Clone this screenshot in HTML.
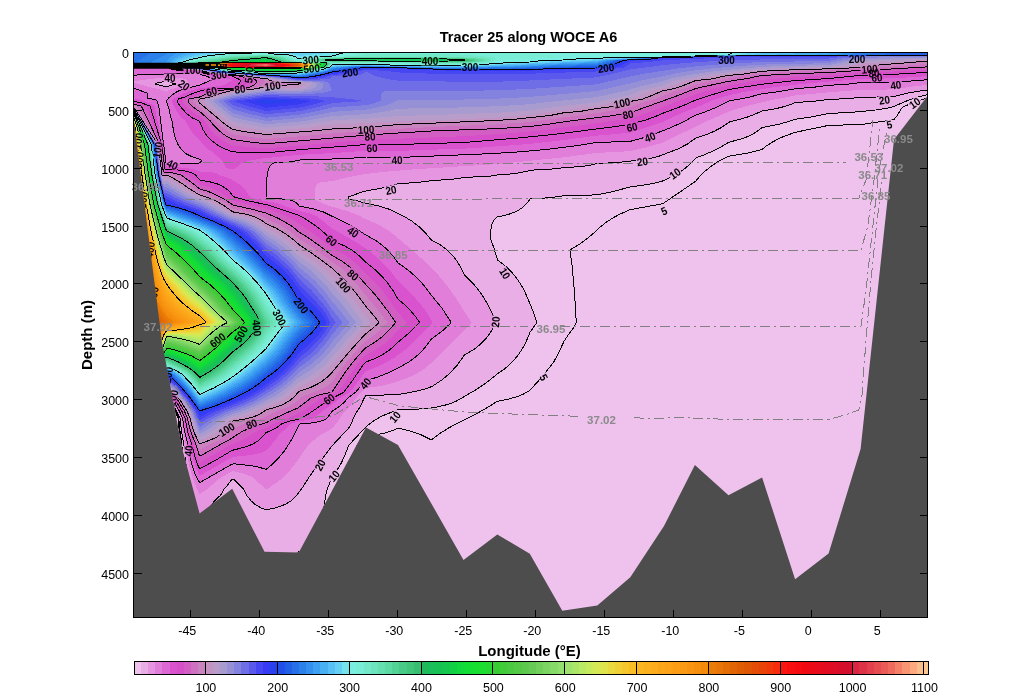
<!DOCTYPE html>
<html><head><meta charset="utf-8"><title>Tracer 25 along WOCE A6</title>
<style>
html,body{margin:0;padding:0;background:#fff;}
body{width:1024px;height:693px;overflow:hidden;font-family:"Liberation Sans",sans-serif;}
svg{display:block;will-change:transform}
text{font-family:"Liberation Sans",sans-serif;}
.tk{font-size:12.5px;fill:#000}
.cl{font-size:11px;font-weight:bold;fill:#000;text-anchor:middle;font-family:"Liberation Sans",sans-serif;font-stretch:condensed}
.il{font-size:11.5px;font-weight:bold;fill:#8a8a8a;text-anchor:middle}
</style></head><body>
<svg width="1024" height="693" viewBox="0 0 1024 693">
<rect width="1024" height="693" fill="#fff"/>
<defs><clipPath id="ax"><rect x="133.5" y="52.5" width="794" height="565"/></clipPath>
<clipPath id="sea"><path clip-rule="evenodd" d="M133,52H928V618H133Z M133.5,117.0 148.4,235.0 162.0,342.0 182.0,448.0 199.6,513.5 232.2,488.8 264.5,551.8 298.8,552.5 366.0,427.5 398.0,445.0 463.5,560.0 497.3,534.5 529.8,553.8 562.3,610.8 597.3,605.5 630.3,577.3 664.0,526.0 694.9,465.0 728.5,495.2 762.1,477.4 795.1,579.3 828.6,553.5 860.6,449.0 894.0,139.5 927.5,96.0 930,96 930,620 130,620 130,117Z"/></clipPath></defs>

<g clip-path="url(#ax)" shape-rendering="crispEdges">
<rect x="133" y="52" width="796" height="567" fill="#eec2ed"/>
<path fill="#eaaee7" d="M134,52 928,52 928,94.5 913.4,98.5 903.9,102 894,106.5 887.9,108 875.6,110 858,111.8 828,113.6 812,116.8 796,119.2 780,124 762,127.7 756,132.2 749.1,136 741.3,139 728,142.7 720.8,147 713,151 695.8,158 689.1,165 681.6,171 672,176.8 662,181.2 648,184.5 629.7,187 614,191.4 596,194.9 564,195.7 552,197.5 530.2,199 527.2,203 524.3,206 518,210.5 509.6,214 497.1,217 494,220 492.1,224 490.9,230 490.1,238 493.6,247 497.6,260 505.3,266 510,270.4 515,276 520,283.1 524,290 527.2,297 533.7,313 536.8,322 536.6,323 530,332.3 524.4,345 518,355.3 513.3,361 508,366.1 503.1,370 498,373.4 487.3,382 476,389.7 456,401.3 445.6,405 430,408.2 418,409.1 398,409.7 382,416 375,420 369.5,424 366,427 365.6,428 364,429 348.9,445 344.6,456 341.3,463 337.2,470 332,477.4 326.6,491 323.4,510 319.7,524 317.4,530 314.9,535 309.4,543 304,548.3 298.6,552 266,585.8 234,582.7 232,584 228,591 224,597 219.3,603 214.7,608 209,613.2 202.6,618 199,618 194.8,602 191.3,584 188.1,563 185.4,540 183.1,514 185,508 186.4,500 185,483 183.2,466 181.8,444 180.1,432 178.7,418 175.4,411 169.4,400 167,397.4 166,397 133,397 133,52 134,52Z"/>
<path fill="#e696e0" d="M134,52 928,52 928,89.8 910,92.6 894,96.5 860,97.5 846,98.7 828,99.5 814,101.3 795.6,102.5 787.7,105.5 780.9,107.5 772,109.4 761.9,111 755.4,114 747.6,117 729.4,122 720.4,128 714,131.4 706,134.7 695.8,138 687.4,144 678,148.9 658,156.6 650,158.6 642,159.8 620,162.2 596,163.8 588,165.6 580,166.6 550,169.3 532,170.1 518,173.1 497.3,175 490,176.1 464,177.5 452,179.3 432,180.6 418,182.4 398,183.8 384,187.7 364,191.3 348.2,197 348.3,199 358,201 366,203.4 378.8,206 388,208.8 393.4,211 404,216.4 412,221.2 419.5,227 424.6,232 431.4,240 440.5,245 447.2,250 452.3,255 456.9,261 460.5,267 464.3,275 474.3,285 482.7,296 487,303 490.6,310 495.5,321 495.8,323 490,333.1 486.3,338 482.7,342 474.4,349 464.4,355 457.3,365 450.1,373 441.9,380 432,386.5 426,388.7 418,390.8 398,394.5 365.7,396 364,398.4 360.6,406 354.8,415 351.9,422 348.8,428 331.9,446 314.8,469 309.2,477 303.6,486 297.1,495 293.3,499 289.3,502 283.6,505 276,507.7 266,510 264,509.3 257.5,506 252,501.8 247.2,496 243.5,489 234,479.4 232,479.2 228,484.6 224.2,489 222.1,493 219.8,496 215.3,500 212,504.3 208.3,508 204.5,511 200,513.8 199,512.8 197.7,510 195.2,500 192.3,493 187.8,475 185.8,463 183.8,444 181.6,432 180,418 176.7,411 170.6,400 167,396.2 166,395.7 133,395.7 133,52 134,52ZM165,81.5 159,82.4 154.8,84 160.8,85.5 167,86.7 175.5,84 169,81.8 167,81.4 165,81.5Z"/>
<path fill="#e07ed9" d="M134,52 928,52 928,84.8 910,86.8 894,89.4 860,89.9 828,92.4 796,95.4 771.9,100 747,106 730,111 706,121.6 662,142.9 646,147.4 630,151.2 596,153 564,157.3 498,164 416,169.2 382,172 362,174.5 346,177.7 332,181.2 322,181.9 318.4,183 316.4,185 315.7,187 315.1,191 314.6,199 320,202.1 326,204.7 332,206.7 346,210.5 357.6,215 364,218.3 374,222.6 380.8,226 387.5,230 394,234.7 417.8,255 428.6,265 436.5,273 446.6,285 455.3,297 464,311.2 471.2,322 471.1,323 459.7,335 434.4,360 426.7,367 420,371.7 409.8,377 394,382.7 382,385.7 366,388.1 364,389.4 356.1,398 353.5,402 350.3,406 344,412 337.5,422 332,428.6 320.3,435 311.5,442 307.6,446 295.1,464 288.5,472 280,480 270.4,487 266,489.6 253.6,478 252,477.1 247.3,475 241.4,473 234,471.2 232,471.3 220.3,478 206,490 200,494 199,493.1 197.5,490 192.7,478 189.5,467 187.7,458 185.8,444 183,431 181.2,418 178,411 171.8,400 167,394.9 166,394.5 133,394.5 133,82.5 147,86.5 162,90 166,91.6 167,91.5 168.9,90 186.1,85 188.3,84 187.4,81 186,79.5 183.2,78.5 179,78 167,77.6 163,77.8 148,79.2 133,81.4 133,52 134,52Z"/>
<path fill="#dd67d4" d="M134,52 928,52 928,79.7 894,82.4 861,82.5 849.3,84 828,85.4 814,87.2 796,88.6 779.5,91.5 762,93.8 747.8,97.5 728.7,101 713.7,108.5 704.8,112 695.8,115 683.2,122 670,128 649.1,136 630,141.4 596,142.5 580,145.2 544,149.7 520,151.8 490,153.7 398,157.5 366,157 348,158.5 322,159.6 299.8,160 289.3,162 274,163 272,164.2 270,166.2 268.6,169 267.7,172 266.6,180 266,198 280,198.7 290,200 295.2,202 299.2,206 314,209 323.5,212 349.8,225 364.3,234 376.6,241 383.2,246 388.6,251 393.8,257 398,262.9 410.4,272 420.9,282 442,308.3 450.4,321 451,322 450.9,323 442,331.3 431.4,339 426,346.3 421,352 415.6,357 410,361.2 402,366 390,372.1 378,376.9 366,380.7 364,382.1 355.9,392 348,398 344.5,402 340,406 332.5,411 328.7,416 325.9,419 322,420.8 316,422.3 299.6,424 290.8,441 284.3,451 276,460.6 266,469.4 258.2,467 250,465.5 235.6,464 232,464.2 200,482.4 198.6,481 195.9,476 191.7,464 189.8,456 187.8,444 184.7,432 182.5,418 179.3,411 172.9,400 167,393.6 166,393.2 133,393.2 133,164 136,164 136,161 135,160 135,153 134,152 134,145 133,144 133,88 147,93 147,98 155,99.7 156,100 157,101 157,102 157.6,102.5 158,104.3 158.9,105.5 159.6,110.5 161,124 161.8,127 162,132 162.7,134 163,139.7 163.8,142 164,147.3 164.9,150 165,155.2 165.7,157 166,163 167,164 199,163 200,162.7 201.7,161 200,159.3 191,156.3 186,153.7 181.7,150 178.2,145 175,136.9 173.4,130 172,121 170.4,116 169.4,110 167,102.8 166,101 167,100.3 168.6,98 172.7,94.5 179.5,90.5 187.6,88 199.8,85 211.7,80 211.1,78 206,76 202,75.1 199,73 133,75.2 133,52 134,52Z"/>
<path fill="#da53ce" d="M134,52 928,52 928,76 894,78.3 860,79 802,83.9 772,87.5 742,92.4 728,95.4 713.5,100 702,105 679.6,114 662,122.3 630,132.6 628,132.9 596,135.7 564,140 530,143.9 482,147.5 464,148.6 398,150.9 364,150.9 332,153.1 298,154.9 262,158.5 250,160.5 242,163 236,167.7 234,168.9 232,169.5 228,168.6 226,167.4 224.8,166 222.6,161 212.5,152 208,149.2 205,146.7 199,139.6 194.3,135 190,129.2 185.5,121 181.7,118 178.5,114 173.6,105.5 171.9,101 173,99 174,98.4 177.3,97 183.2,93.5 190,90.8 200,88.1 213.4,87 222.2,85.5 224,85 226.9,83.5 232.3,80 219.4,76 208.4,75 203.7,74 199,72.2 185,71.8 173,70.8 168.7,69.5 167,67.5 166,67.2 133,67.3 133,52 134,52ZM133.6,98.5 141.2,100 147,101.9 150,103.2 154.4,106 162.7,145 165.1,164 166,166 167,166.5 187,168.1 195,169.6 200,171.5 210,172 215.6,173 217.7,174 218.8,175 225.5,177 230.7,179 237.9,183 243.6,188 246.7,192 249,196 251.7,198 264,200.9 274,202.5 280,203.9 284.8,206 298,210.3 310,213.6 315.9,216 324,221.7 332,228.5 359.3,244 370,251.6 376,256.6 389.5,270 394,275.4 398,281 407.8,290 419.6,303 425.8,311 432.6,322 432.4,323 423.8,332 410.7,345 405,350 395.4,357 390,360.3 378,366.4 366,371.3 364,373.1 358.6,381 350,392 346,394.7 339.9,398 334,403.1 322.5,411 316,416.6 312.4,419 298,421.7 290.1,424 286,428.7 280.2,433 273.8,442 266,450.8 260.5,453 254,454.5 246,455.7 234,456.8 232,457.3 200,475.5 199,474.5 197.3,471 193.3,460 189.8,444 186.3,432 183.7,418 180.5,411 174.1,400 167,392.4 166,391.9 133,391.9 133,166.5 136,166.5 136,164 136,161 135,160 135,153 134,152 134,145 133,144 133,98.4 133.6,98.5Z"/>
<path fill="#d64fc9" d="M134,52 928,52 928,72.3 894,74.3 860,75.4 828,78.6 794,80.7 762,84.2 730,89.3 696,99.9 682,106.1 663.5,113 654,117.1 638.4,122 624.9,125 614,126.8 552,134.6 516,138.2 464,142.5 398,144.5 364,144.7 298,149.8 266,153 250,152.8 240,152.4 232,151.6 222.8,148 215.8,144 210,139.1 206,134.6 203,129.7 200,122.4 199.1,121 192.5,118 187,114 180.3,106.5 177.9,103 177.2,101 178.4,99 184.7,97 193,93.3 203,90.1 213.4,89 232.2,88.5 234,87.9 236.1,87 237.8,85 240.1,82 240.3,80 235.6,78 232.2,76 218,75.3 208,74.1 199,71.5 184,70.9 174,69.8 170.7,69 166,66.5 133,66.5 133,52 134,52ZM134,101.3 142,103 150,106 161.8,145 165,169 180,170.2 190,172.3 195.4,175 200,180 212,182.3 217.5,184 222,186 228,190 230,192 232.8,196 234.5,197 248,200.7 268,205.1 298.3,215 305.5,219 313.1,224 319.7,229 326.7,235 332,240.5 344.7,246 354.5,252 360,256.5 366,262.4 375.5,270 381.6,276 387.6,283 393.3,291 398,299.1 405,305 410,310 415.1,316 419.4,322 419.2,323 412,330.2 398,342.1 394,346.2 389.4,350 380,356 373.7,359 366,362 364.8,363 344,392 342.5,393 331.7,398 308.4,414 303.1,417 298.9,419 290,421.1 281.4,424 278,426.7 274.2,429 266,432.7 260.3,439 254,443.4 245.3,447 232,450.4 216,460 200,468.6 199,467.5 198,465.4 195,457 191.8,444 187.8,432 185,418 181.8,411 175.3,400 167,391.1 166,390.7 133,390.7 133,169 137,169 136,168 136,161 135,160 135,153 134,152 134,145 133,144 133,101.2 134,101.3Z"/>
<path fill="#d25ec4" d="M134,52 928,52 928,69.5 894,71.5 860,72.9 828,75.5 794,77.2 762,79.8 728,85.5 710.7,89.5 696,94.2 654.8,110 640,115.4 630,118.4 596,123.3 535.9,131 498,134.1 464,136.2 364,140 266,148.4 234,145.7 232,145.3 226,142.3 219.2,138 214.4,134 209,127.7 204.9,121 200,116.7 194.1,113 188.4,108.5 183.7,103.5 182.6,101 183.7,99 192.2,97 209.2,90.5 218,89.6 238.9,88.5 242.9,87 245.8,85 248.6,82 248,80 246.3,79 241.3,78 235.9,76 210,73.9 199,71.1 188,70.6 176,69.5 170,68.1 166,66 133,66 133,52 134,52ZM134,102.9 145.7,106 160.8,145 163.9,169 165,170.5 177.8,172 187,174.5 189,175.6 193.8,180 200,184.6 208.3,187 218,191 221.4,193 226.7,197 234,201.1 266,208.8 284.6,215 292,219 315.3,235 332,248 339.9,252 346,255.8 350.6,259 356.6,264 366,273.6 373,280 378.6,286 384.9,294 398,312.8 406.6,322 406.4,323 398,330.6 391.2,338 384.2,344 377.1,349 366,354.8 364,356.4 358.3,363 338,392 332,395 321.4,398 307.7,408 298,413.6 286.2,419 277.2,422 266,427.7 254.2,432 246,438.2 240.4,441 232,444.2 200,462.4 199,461.1 197.4,457 193.7,444 190,434 186.2,418 183.1,411 176.5,400 172.9,396 167,389.8 166,389.4 133,389.4 133,170.5 137,170.5 137,169 136,168 136,161 135,160 135,153 134,152 134,145 133,144 133,102.7 134,102.9Z"/>
<path fill="#ce71c0" d="M134,52 928,52 928,66.8 884,69.4 860,70.4 832,72.3 761.5,75.5 747.3,78.5 728,81.4 696,88.4 678,95.5 630,112.8 612,115.7 564,121.8 532,126.3 498,128.6 431.5,131 398,133 364,135.3 266,143.8 250,142 234,139.7 232,139.2 228,137.1 223.1,134 219.5,131 214.3,126 210.4,121 200,111.8 191.9,106 188.8,103 187.9,101 189,99 199.6,97 207.3,93.5 217.1,90.5 245,88.5 251.2,86.5 253.8,85 257.2,82 255.6,80 254.1,79 247.1,78 239,76 212,73.8 199,70.7 177,69.1 171,68 166,65.5 133,65.5 133,52 134,52ZM134,104.3 141.3,106 159.9,145 163,169.5 164,172 167,172.1 172,172.8 181,175 193,183.5 199.8,189 207,191 212.1,193 225.7,200 232,204.4 234,205.3 250.8,209 265.8,213 278,218.2 290,225 294.3,228 298.8,232 307.1,237 321.3,247 332,255.4 341.8,261 351.1,268 375.4,295 387.8,311 395.3,322 395.2,323 391.1,328 383,336 376,341.5 366,347.7 364,349.3 352.9,362 345.3,372 332,392 319.1,395 311,398 297.8,408 271.1,420 266,422.8 254,426.5 244,430.6 241.2,432 228,440.6 221.3,444 200,456.1 199,454.6 195.7,444 192,435 189.5,427 187.4,418 184.4,411 177.7,400 168.4,390 167,388.6 166,388.2 133,388.2 133,172 137,172 137,169 136,168 136.1,161 135.1,160 135.1,153 134.1,152 134.1,145 133.1,144 133,104.2 134,104.3Z"/>
<path fill="#c983bf" d="M134,52 928,52 928,63.9 878,67.7 828,70.6 796,71.6 762,73.2 744.2,75.5 722.3,79.5 712,80.9 696,84.4 683.8,89 675.7,91 653.5,99.5 645.3,101.5 630,107.1 626.4,108 600,112.6 530,122 496,124.5 432,127 398,128.8 332,133.5 266,139.1 236,134.9 232,134 220.8,126 215.9,121 194.2,103 193.2,101 194.3,99 204.9,97 213.7,93.5 224,90.7 250,88.6 258.5,86.5 261.8,85 265.8,82 261.9,79 254,78.2 242.2,76 234,75 212.8,73.5 207,72.4 199,70.3 178.9,69 172.3,68 166,65 133,65 133,52 134,52ZM134,105.4 137,106 159,145 162.4,172 163,173 164,173.5 167,173.6 171,174.4 175,175.6 186,182.5 194.7,189 199,191.6 214,197.4 219.8,200 225,203 232,207.9 234,208.8 252.7,213 259.3,215 281.6,226 286.6,229 300,239.2 314.9,249 332,261.8 338,265.6 342.5,269 350,276.5 356.7,284 366,295.7 378.9,311 387,322 386.9,323 378.9,331 374,335.1 364,342.4 346.7,362 338.1,373 332,382.2 328,385.3 320,389.7 303.9,396 300.6,398 294,403.6 288.1,407 279.4,410 262,418.3 252.1,421 242,424.7 236,427.4 234,428.4 232,430.1 228,434.5 223.4,438 217.6,441 210.3,444 200,449.8 199,448.2 197.7,444 193.2,434 190.9,427 188.7,418 185.7,411 178.8,400 167,387.3 166,386.9 133,386.9 133,173.5 137,173.5 137,169 136.1,168 136.1,161 135.1,160 135.1,153 134.1,152 134.1,145 133.1,144 133,105.2 134,105.4Z"/>
<path fill="#c293c3" d="M134,52 928,52 928,61 878,65.1 849.2,68 828,68.9 795.5,69.5 782.1,70.5 762,71.2 743.7,74 727.5,75.5 711,79 695.8,80.5 682,86 674,88.7 661.9,91 651.9,95.5 642.7,99 629.6,101.5 622,104.2 613.8,106.5 596.6,108.5 582,111.1 562.5,113 552.6,115 542,116.4 516.8,119 496,120.5 398,124.6 366,127.4 332,129 310,131.2 266,134.5 246,131.9 234,129.7 232,129 224.7,124 199.6,103 198.6,101 199.7,99 210.1,97 220,93.5 232,90.6 253.7,89 266,86.5 298,84.2 300.6,83 284,82.5 276,81.8 271.7,81 269.1,80 267.7,79 266,78.7 232.4,74.5 214,73.3 208,72.3 199.2,70 186,69.4 175,68.2 170.7,67 166,64.5 133,64.5 133,52 134,52ZM133.9,107 134,108 134.9,108.5 135,109.5 135.9,110 136,111 136.9,111.5 137.9,113 138,114 139.8,116 140,117 141.7,119 142,120 144.9,124 145,125 146.9,127 147,128 148.8,130 149,131 150.7,133 151,134 152.6,136 158.1,145 162,175 167,175.2 172,177.5 181,182.8 189.7,189 199,194.6 209,198 216,201 224.6,206 232,211.4 234,212.2 248,214.7 256,217.4 261.1,220 266,223.7 276,228.1 286,234.1 292,238.5 300,245.4 310,251.9 325.3,263 331.7,268 338.4,274 345.4,281 352.6,289 365.5,306 372.4,314 378.7,322 378.5,323 375.4,326 364,335.4 349,352 332,372.5 327.6,377 322,381.3 317.6,384 312,386.8 300,391 298,392.5 294,397 290.4,400 286,402.8 281.7,405 274,407.8 266,409.9 260.2,414 254,416.7 246,418.8 233.2,421 232,422 229.3,426 226,429.8 219.8,435 212,439.3 200,443.8 198.1,441 194.8,434 192.4,427 189.9,418 186.9,411 180,400 167,386 166,385.6 133,385.6 133,175 137,175 137.1,169 136.1,168 136.1,161 135.1,160 135.1,153 134.1,152 134.1,145 133.1,144 133,106.5 133.9,107Z"/>
<path fill="#b89cca" d="M134,52 928,52 928,59.8 862,63.5 846,66.7 830,68 780,69.2 750,71 730.2,74 717.9,75 700,78.5 685.3,80.5 672,86 665.7,88 650.4,91 640.4,95.5 630.5,99 614.4,101.5 608.2,103.5 598.3,106 578,108 563.2,110.5 546,112.1 530.1,115 512.5,116 496,117.5 464,119.1 412,120.7 332,124.7 302,128.3 266,131 244,127.6 234,125.6 232,124.9 221.7,117 204.7,103 203.5,101 205.5,99 215.3,97 222.7,94.5 232,92.2 244.7,90.5 258,89.4 266,88 298,88 301.6,86.5 306.3,83 282,81.4 276,80.5 271.7,79 256.7,77 235.2,74.5 216,73.3 209,72.1 200,69.9 187,69.2 175,68 170,66.3 167,64.5 133,64.4 133,52 134,52ZM133.6,107 134,108.2 134.6,108.5 135,109.7 135.6,110 136,111.2 136.5,111.5 139,115.9 140.7,118 141,119.1 142.6,121 143,122.2 157.7,145 162,177.1 163,178 166,178 169,179.2 177,183.8 184.8,189 194.7,195 207.9,200 214,202.8 221.5,207 228.6,212 230.8,213 234,214.1 246,216.8 254.4,220 258,222 266,227.7 274,231.6 284,237.8 290,242.4 300,251.1 315.7,262 325.8,270 340.7,285 347.9,293 370.4,322 370.2,323 364,328.4 350.5,343 332,364.8 326.6,370 318,377 310,381.8 298,387.3 287,397 278.8,402 272,404.8 266,406.7 250,414.4 242,416.8 232,418.9 229.6,420 227.8,421 221.8,428 216,432.7 208.4,437 200,440.4 198.8,439 195.6,432 191.2,418 188.2,411 181.2,400 174,391.9 167,384.8 166,384.4 133,384.4 133,178 138,178 138,177 137,176 137.1,169 136.1,168 136.1,161 135.1,160 135.1,153 134.1,152 134.1,145 133.1,144 133,106.7 133.6,107Z"/>
<path fill="#a89bd0" d="M134,52 928,52 928,58.6 862,61.1 840,65.4 828,66.9 790,67.6 762,68.9 738,70.8 728,72.3 706,74.8 695.6,77 674.9,80.5 662,85.9 640.1,90.5 630,95.1 604,100.3 596,102.5 575.6,104.5 544,108.3 530,110.4 496,112.9 398,116.1 368,118.5 332,120.4 300,125 266,127.7 244,123.8 234,121.6 232,120.8 209.8,103 208.4,101 211.3,99 220.5,97 232,93.7 236.6,93 266,89.4 298,89.6 302,89.1 306.8,88 309.8,85.5 312,83 285.9,81 280,80.2 275.6,79 261.2,77 237.7,74.5 218,73.2 211,72.2 200,69.8 176.2,68 172,66.8 169,65.5 167.9,64.5 167,64.4 133,64.3 133,52 134,52ZM133.2,107 157.4,145 161.2,175 162,178.6 163,181 167,181.2 189.7,195 210,203.4 218,207.7 224.5,212 230,214.6 232,215.5 244.9,219 252,222 260,226.8 266,231.7 274,236 280.3,240 290,247.6 300,256.8 315.7,268 323.3,275 345.2,299 354.7,311 362.6,322 362.5,323 346,340.9 328.6,361 322,367.3 313.1,374 308,377.3 298,382.6 284.4,394 278,398.2 247.8,412 242,414 232,416.6 224.8,420 223.1,421 218.3,426 213.3,430 207,433.8 200,437.1 199,435.9 196.4,430 192.4,418 189.5,411 182.4,400 174.4,391 167,383.6 166,383.2 133,383.2 133,181 138,181 138,177 137,176 137.1,169 136.1,168 136.1,161 135.1,160 135.1,153 134.1,152 134.1,145 133.1,144 133.2,107Z"/>
<path fill="#9690d7" d="M134,52 928,52 928,57.6 862,59.2 855.4,60 828,65.2 794,65.7 770,66.5 738,68.7 706,72.3 682,76.2 670,78.8 662,81.5 639.7,86.5 628,90.2 596,97.2 550,101.8 530,104.2 498,106.2 464,107.4 398,108.7 386,111.4 372,113.5 364,114.3 332,116.1 316.5,119 300,121.5 266,124.4 244,120 234,117.6 232,116.7 214.9,103 213.3,101 217.1,99 232,95.2 264,91.1 298,91.2 308,90 314.8,88 317.7,83 310,82 288,80.5 265.7,77 240.2,74.5 220,73.2 212,72.1 200,69.6 177.5,68 173,66.9 169.6,65.5 168.6,64.5 167,64.3 133,64.2 133,52 134,52ZM133.6,107.5 157,145 160.8,175 163,184 167,184.2 185,195.1 207,204.4 214,208 220.5,212 232,217.4 240.9,220 248,222.9 254,226 258,228.6 261.1,231 266,235.6 275.1,241 284.6,248 291.4,254 300,262.5 309,269 317,276 324.8,284 332,293 341,303 355.9,322 355.7,323 340.3,340 327.6,355 321.8,361 312,369 298,377.9 290,385.3 279.6,393 273.2,397 255,406 242,411.3 232,414.4 221.9,419 218.3,421 214,425 209,428.8 200,433.7 199,432.6 197.4,429 193.7,418 190.8,411 183.6,400 174.8,390 167,382.4 166,382 133,382 133,184 138,184 138,177 137,176 137.1,169 136.1,168 136.1,161 135.1,160 135.1,153 134.1,152 134.1,145 133.1,144 133,107 133.6,107.5Z"/>
<path fill="#8382df" d="M134,52 928,52 928,56.9 862,57.7 844.1,60 828,63.2 762,64.6 740,65.9 714,68.2 690,71 674.9,73.5 662,76.5 643.3,80 629.8,83.5 596,91.1 530,96.9 498,98.6 464,99.5 398,100 392,103 385.1,105.5 376,107.8 366,109.7 332,111.8 317.2,115 300,118 266,121 250,117.7 234,113.5 231.2,112 220,103 218.1,101 223,99 234,96.3 266,92.3 298,92.9 314,91.3 320,90 322.3,88.5 322.8,88 323.4,83 314,81.6 292,80.3 269.5,77 242.6,74.5 218,72.7 200,69.4 178.8,68 173,66.6 170.2,65.5 169.3,64.5 167,64.2 133,64.1 133,52 134,52ZM133.4,107.5 156.7,145 160.5,175 163,185.6 164,187 167,187.3 183,196.6 204,205.3 210,208.3 216.4,212 232,219.3 240,221.9 246,224.5 251,227 256,230.2 266,239.5 275.9,246 284,252.3 291.3,259 300,268.2 308,274.5 315.2,281 324.4,291 332,301.2 340.5,311 349.1,322 349,323 335.5,338 326,349.9 320,356.4 311.3,364 298,373.2 291.2,380 282.6,387 272,394 255.4,403 244,407.9 229.8,413 218,418.4 213.5,421 206,426.9 200,430.4 199,429.2 198.1,427 192,411 184.7,400 175.1,389 167,381.2 166,380.8 133,380.8 133,187 139,187 139,185 138,184 138.1,177 137.1,176 137.1,169 136.1,168 136.1,161 135.2,160 135.2,153 134.2,152 134.2,145 133.2,144 133,107.2 133.4,107.5Z"/>
<path fill="#6f6ee6" d="M134,52 928,52 928,56.4 858.5,56.5 840,58.8 828,61 762,62 736,63.3 708,65.2 680,68.1 645.4,73.5 630,76.5 596,84.4 530,88.9 498,90.3 464,90.8 398,90.5 388,90.8 384,91.4 382,92.7 381.1,95.5 380.6,101 374,103.2 366,105.2 332,107.5 316,111.4 300,114.6 266,117.7 246,113 234,109.5 232,108.6 223,101 228.8,99 234,97.8 266,93.8 304,94.3 322,93 328,91.7 332,90 364,90 332,90 330.4,87 329.1,83 326,81.7 322,81.1 298,80.4 273.1,77 245.1,74.5 220,72.8 200,69.3 179,67.8 172,66 170.8,65.5 170,64.5 167,64.1 133,64 133,52 134,52ZM133.3,107.5 156.4,145 160.2,175 164,190 167,190.3 174.8,195 181,198.1 189,201.6 202,206.6 220.6,216 232,221.1 244.3,226 253,231 259.6,237 266,243.5 275.5,250 284,257 293.1,266 300,274 307.3,280 313.6,286 322.4,296 328.5,304 332,309.4 342.3,322 342.3,323 332,334.5 326.9,342 318,352.3 309.4,360 300,366.8 290,376.9 280.1,385 272,390.4 255.7,400 245.1,405 228,411.4 218,415.8 210.3,420 200,427.1 199,425.8 193.3,411 185.9,400 176,388.6 167,380 166,379.6 133,379.6 133,190 139,190 139,185 138,184 138.1,177 137.1,176 137.1,169 136.1,168 136.2,161 135.2,160 135.2,153 134.2,152 134.2,145 133.2,144 133,107.3 133.3,107.5Z"/>
<path fill="#5a58ed" d="M134,52 928,52 928,56.1 852,56.3 840.2,57 828,58.7 760,59.5 728,60.4 708,61.5 690,62.6 666,64.8 630,69.4 612.1,74 596,77.4 514,81.2 496,81.7 464,81.8 398,80.7 387.3,79 378.8,77 372,74.7 366,71.7 362,74.3 358,75.2 350,75.7 332,76 331.3,77.5 330,78.5 326,79.4 298,79.9 276.8,77 222,72.8 200,69.1 181.4,68 175,66.7 171.5,65.5 170.7,64.5 167,63.9 133,63.9 133,52 134,52ZM264,95.4 266,95.2 326,96.7 350.3,99 364.4,101 332,103.1 316.2,107.5 300,111.1 266,114.3 250,110.4 234,105.5 232,104.5 227.8,101 234,99.3 264,95.4ZM133.1,107.5 156,145 159.8,175 164,192.6 167,193.3 175,197.8 184,202 200,207.8 216.4,216 242,227.2 249,231 257.9,239 266,247.4 277.6,256 290,267.4 300,279.7 311.1,290 323.3,304 328,310.4 332,317.7 335.6,322 335.5,323 332,327 325.8,337 316.3,348 309,355 300,361.9 289.8,373 279.2,382 272,387 254,398.1 242,403.8 223.1,411 216.4,414 208,418.5 200,423.8 199,422.4 194.6,411 187.1,400 176,387.3 167,378.8 166,378.4 133,378.4 133,193 140,193 139,192 139,185 138,184 138.1,177 137.1,176 137.1,169 136.2,168 136.2,161 135.2,160 135.2,153 134.2,152 134.2,145 133.2,144 133.1,107.5Z"/>
<path fill="#4646f2" d="M134,52 928,52 928,55.9 848.7,56 828,56.9 730,57.5 694,58.9 664,60.2 648,62.1 630,63.4 626.1,66.5 622.9,68 615.7,68.5 606,70.3 596,71.5 524,73.9 496,74.4 432,73.7 406,72.9 398,72.4 386,70.8 366,70 358.7,71 355,72.5 350,73.6 332,75 327.8,76 324,77.7 320,78.4 300,79.4 278,76.8 224,72.8 200,69 182.7,68 176,66.8 172.1,65.5 171.4,65 171.4,64.5 167,63.8 133,63.8 133,52 134,52ZM264,96.9 268,96.7 306,98.1 318,99.4 325.3,101 313,104.5 300,107.6 266,111 248,106.1 233.1,101 264,96.9ZM133.4,108 155.7,145 159.5,175 164,194.1 165,196 167,196.3 175,200.5 184,204.4 199,209.4 212.2,216 224,220.9 244.9,231 256,240.7 266,251.4 275.9,259 288.1,270 293.2,276 300,285.5 308,293.1 321.6,308 326,314.1 330.3,322 330.2,323 326,330.4 322.8,335 318.6,340 308.6,350 300,357.1 292.5,366 287.7,371 277,380 259.6,392 251,397 238.1,403 216,411.5 208,415.5 200,420.5 199,419 195.9,411 188.3,400 177,386.9 167,377.6 166,377.2 133,377.2 133,196 140,196 140,193 139,192 139.1,185 138.1,184 138.1,177 137.1,176 137.2,169 136.2,168 136.2,161 135.2,160 135.2,153 134.2,152 134.2,145 133.2,144 133,107.5 133.4,108Z"/>
<path fill="#373bf4" d="M134,52 928,52 928,55.8 730,56.4 664,58.1 660,59.2 656,59.7 630,60.7 620.8,66 614.1,68 599.1,68.5 596,68.9 564,69.5 530,70.6 498,71.1 466,70.9 434,70.3 402,69.3 398,68.8 366,69 352.4,71 344,72.8 332,74 320.6,77 316,77.9 300,78.9 278,76.4 223.3,72.5 200,68.8 181,67.6 174,66 172,65 172.1,64.5 167,63.7 133,63.7 133,52 134,52ZM264,98.3 266,98.1 298,99.3 312.1,101 298,104.5 266,107.7 243.7,101 264,98.3ZM133.3,108 155.3,145 159.2,175 165,199 167,199.2 179.2,205 189,207.7 197,210.6 208,216 222,221.7 240.8,231 248,236.8 254,242.3 266,255.3 280,266.5 286,272.1 292,279.3 300,291.2 309.5,301 315,306 319.5,311 323.1,316 326.6,322 326.6,323 323.6,328 316.6,337 306,347.1 300,352.3 288.8,366 283.7,371 277.7,376 259.7,389 249.9,395 240,399.8 227.9,405 211.2,411 200,417.2 199,415.7 197.2,411 188,398.2 176.5,385 167,376.4 166,376 133,376 133,199 140,199 140,193 139,192 139.1,185 138.1,184 138.1,177 137.1,176 137.2,169 136.2,168 136.2,161 135.2,160 135.2,153 134.2,152 134.2,145 133.2,144 133,107.6 133.3,108Z"/>
<path fill="#2840ee" d="M134,52 928,52 928,55.6 730,56 718,56.7 664,57.6 652,59.4 630,60 626.4,60.5 616.2,65.5 610.9,67 605.3,68 552.6,69 544,69.6 500,70.3 480,70.2 416,69 398,67.8 366,68 332,73 326,74.7 314,77.2 300,78.4 278,76.1 224,72.4 200,68.7 182,67.6 174,65.8 172.6,65 172.7,64.5 167,63.6 133,63.6 133,52 134,52ZM264,99.8 266,99.6 298.5,101 266,104.3 254.8,101 264,99.8ZM133.2,108 155,145 158.8,175 165,201.1 166,202 172.9,205 182,207.3 190.5,210 197,212.6 203.8,216 216,220.7 224,224.4 236.8,231 239.4,233 246.7,239 253.2,245 259.9,252 266,259.2 278,268.5 284.8,275 291.9,284 300,296.9 303.9,301 310,306 314.1,310 319,316 323,322 323,323 320.4,327 314,334.9 309.9,339 300,347.5 292.9,357 287.9,363 281.9,369 274.6,375 257,388 246,394.5 226,403.7 217.5,407 205.2,411 200,413.9 198.4,411 190.6,400 184.1,392 176.8,384 167,375.2 166,374.8 133,374.8 133,202 141,202 141,201 140,200 140.1,193 139.1,192 139.1,185 138.1,184 138.1,177 137.1,176 137.2,169 136.2,168 136.2,161 135.2,160 135.2,153 134.2,152 134.2,145 133.2,144 133.2,108Z"/>
<path fill="#2050e8" d="M134,52 928,52 928,55.5 730,55.9 714,56.7 660.8,57.5 650,59.2 628,59.9 623,60.5 615.1,64 610.6,65.5 604,66.9 596.1,68 548,68.8 530.2,69.5 498,70 464,69.6 422,68.8 398,67.5 366,67.1 332,72 324,74.3 312,76.7 300,77.9 278,75.8 226,72.4 200,68.5 186.6,68 182,67.4 175,65.9 173.2,65 173.4,64.5 167,63.5 133,63.5 133,52 134,52ZM133.2,108 154.7,145 158.5,175 164.6,201 166,205 175.3,207 185.5,210 193,212.8 199.7,216 212,220.6 226,227.1 232.8,231 236.8,234 244.2,240 252,247.3 258.4,254 266,263.1 275.5,270 282.8,277 290.7,287 298.8,301 310.5,311 315,316 319.4,322 319.4,323 318,325 312,332.4 306.2,338 298.9,344 291.2,355 284,363.3 275.6,371 266,377.9 258,384.4 246,392.1 227.4,401 215,406 200,410.8 198.2,409 190.3,398 182,388.2 175,381 167,374 133,373.7 133,205 141,205 141,201 140,200 140.1,193 139.1,192 139.1,185 138.1,184 138.1,177 137.2,176 137.2,169 136.2,168 136.2,161 135.2,160 135.2,153 134.2,152 134.2,145 133.2,144 133.2,108Z"/>
<path fill="#2260e8" d="M134,52 928,52 928,54.4 921.7,55 916,55 828,55.7 728,55.9 710,56.6 657.7,57.5 647.4,59 622,60.1 619.6,60.5 607,65 596,67 564,67.6 530,68.8 498,69.4 464,69.3 430,68.7 398,67.3 364,66.8 360,67 332,71.2 328,72.5 318,74.9 308,76.5 300,77.4 279.3,75.5 226,72.2 200.9,68.5 187.9,68 182,67.3 174.5,65.5 173.8,65 174,64.5 167,63.4 133,63.2 133,52 134,52ZM133.1,108 154.3,145 158.2,175 164.5,202 166,206.3 177,208.9 188,212.6 195.7,216 214,223 222.4,227 229.5,231 246.2,245 254,252.8 266,266.2 273.7,272 280.1,278 284.5,283 289,289 292.1,294 295.8,301 298,304 308.2,313 315.7,322 315.7,323 310,330 305,335 298,341.1 289.6,353 282,361.7 274,369 266,375 256.1,383 244,390.7 226,399.5 214,404.5 200,409.1 199,408.3 189.9,396 181.3,386 173,377.8 168.5,374 167,373.1 133,372.9 133,206.3 141,206.3 141,201 140,200 140.1,193 139.1,192 139.1,185 138.1,184 138.2,177 137.2,176 137.2,169 136.2,168 136.2,161 135.3,160 135.3,153 134.3,152 134.3,145 133.3,144 133.1,108Z"/>
<path fill="#2670e8" d="M134,52 894.3,52 893.8,52.5 892,53 883.1,55 828,55.6 728,55.8 708,56.5 654.6,57.5 642.9,59 619.2,60 616.2,60.5 604,64.5 596,66 564,66.7 530,68.1 498,68.8 464,68.8 430,68.4 398,67.1 366,66.6 358,66.9 355.1,67 332,70.4 328,71.9 318,74.1 300,76.9 278,75.1 264,74.6 228,72.3 202.1,68.5 189.2,68 183,67.3 175.1,65.5 174.4,65 174.8,64.5 174,64.3 167,63.3 133,63 133,52 134,52ZM133.3,108.5 154,145 157.8,175 164.6,204 166,207.6 172.1,209 181,211.7 205,220.8 217,226 226.4,231 245.9,248 266,269.3 272.1,274 278.4,280 286.6,290 289.2,294 293.6,302 298,307.7 306,315 312.1,322 312.1,323 308,327.9 298,337.4 292.8,344 288,351.1 281.2,359 273.8,366 255.1,381 242.8,389 227,397 214,402.7 200,407.4 199,406.7 188.7,393 181.7,385 173.5,377 170,374 168.3,373 166,372.2 133,372.2 133,207.6 141,207.6 141.1,201 140.1,200 140.1,193 139.1,192 139.1,185 138.1,184 138.2,177 137.2,176 137.2,169 136.2,168 136.3,161 135.3,160 135.3,153 134.3,152 134.3,145 133.3,144 133,108 133.3,108.5Z"/>
<path fill="#2c80ea" d="M152,52 875.7,52 875.3,52.5 861.3,55 828,55.5 728,55.8 651.5,57.5 638.5,59 615.6,60 612.8,60.5 602,63.8 596,65 564,65.8 530,67.4 498,68.2 464,68.4 432,68.1 398,66.9 366,66.4 356,66.7 350.1,67 332,69.6 328,71.3 323,72.5 308,75.3 298,76.4 282.3,75 266,74.6 228,72.1 203.4,68.5 190.5,68 183,67.1 175.7,65.5 175,65 175.5,64.5 174,64.1 167,63.1 136.5,62.5 136.5,62 140.7,59 151.7,52.5 152,52ZM133.2,108.5 143.9,127 153.7,145 157.5,175 164.5,205 166,208.7 179,212.5 203,221.5 214,226.2 223.2,231 244.6,250 266,272.3 271.7,277 276.8,282 285,292 290.8,302 296.2,309 298,311.3 308.5,322 308.5,323 306.8,325 298,333.8 290.6,343 286,349.8 279.8,357 272,364.4 254.1,379 242.2,387 227,395 213.5,401 200,405.8 199,405.1 192,395.7 183,385 175,377.1 169.8,373 166,371.5 133,371.5 133,208.9 141,208.9 141.1,201 140.1,200 140.1,193 139.1,192 139.2,185 138.2,184 138.2,177 137.2,176 137.3,169 136.3,168 136.3,161 135.3,160 135.3,153 134.3,152 134.3,145 133.3,144 133.3,137 133,136.7 133.2,108.5Z"/>
<path fill="#3490ee" d="M169,52 858.6,52 858.2,52.5 848.2,55 817.3,55.5 728,55.7 648.4,57.5 636,58.9 612,60 596,64 564,64.9 520.4,67 464,67.9 432,67.8 406,66.9 366,66.2 352,66.6 345.1,67 332,68.8 328,70.7 323.1,72 306.2,75 298,75.9 287.8,75 266,74.4 232,72.3 220,71 204.6,68.5 191.8,68 184,67.1 176.3,65.5 175.6,65 176.2,64.5 175,64.1 170,63.3 166,62.8 151.5,62.5 151.5,62 153.2,61 166,54.3 169,52ZM133.1,108.5 143.7,127 153.3,145 157.2,175 164.1,205 166,209.6 167,210.3 178,213.7 202,222.5 212.4,227 220.1,231 243.4,252 259.2,268 266,275.4 271.3,280 276,284.7 282.8,293 288,302 293.3,309 298,315 304.9,322 304.9,323 298,330.1 287.7,343 283.6,349 278.4,355 271.1,362 253.3,377 242,384.7 226,393.4 213.9,399 200,404.2 199,403.4 191,392.8 184.4,385 176,376.7 173,374 171,372.8 166,370.8 133,370.8 133,210.2 142,210.2 142,209 141,208 141.1,201 140.1,200 140.1,193 139.1,192 139.2,185 138.2,184 138.2,177 137.2,176 137.3,169 136.3,168 136.3,161 135.3,160 135.3,153 134.3,152 134.3,145 133.3,144 133.3,137 133,136.7 133.1,108.5Z"/>
<path fill="#3ea0f2" d="M179,52 846.3,52 845.9,52.5 835.3,55 801.3,55.5 724,55.7 645.3,57.5 634,58.7 608.4,60 596,63 564,64 530.2,66 498,67 464,67.5 432,67.5 410,66.7 366,66 350,66.4 340.2,67 332,68 328.2,70 323.3,71.5 304,74.8 298,75.4 286,74.7 266,74.3 232,72.2 220,70.8 205.9,68.5 192,67.9 181,66.5 177,65.5 176.2,65 176.9,64.5 175.3,64 166.2,62.5 166.2,62 168.4,59 171.1,56.5 174.1,54.5 178.7,52.5 179,52ZM133,108.5 143.5,127 153,145 156.8,175 163.7,205 166,210.5 167,211.6 176,214.5 204.6,225 215.3,230 219.4,233 242.2,254 257.5,269 266,278.4 274.9,287 279.9,293 285.2,302 289.6,308 298,318.6 301.2,322 301.3,323 292,333.8 284.8,343 280.7,349 277.1,353 269.9,360 250,376.9 239.4,384 224,392.4 212,398 200,402.5 199,401.8 190.8,391 183.8,383 174.4,374 171,372.1 166,370.1 133,370.1 133,211.5 142,211.5 142,209 141.1,208 141.1,201 140.1,200 140.2,193 139.2,192 139.2,185 138.2,184 138.2,177 137.2,176 137.3,169 136.3,168 136.3,161 135.3,160 135.3,153 134.3,152 134.3,145 133.3,144 133.3,137 133,136.7 133,108.5Z"/>
<path fill="#4ab0f4" d="M189,52.3 189.3,52 834.1,52 833.7,52.5 828,53.8 809.4,55 720,55.6 673.8,57 642.2,57.5 632,58.6 606,59.9 596,62.1 564,63.2 530,65.2 488,66.6 464,67.1 432,67.1 366,65.7 346,66.3 332,67.4 326.8,70 322,71.4 298,74.9 266,74.1 232,72 220,70.6 207.1,68.5 192,67.8 181,66.3 177.6,65.5 176.8,65 177.5,64.5 176.2,64 169.6,62.5 172.6,59.5 178,56.3 182.1,54.5 189,52.3ZM133.2,109 143.3,127 152.7,145 156.5,175 163.3,205 166,211.5 167,212.9 187.7,220 203,225.8 212.2,230 218,234.4 225.4,241 254,268.3 266,281.5 273.6,289 277.7,294 282.4,302 286,307 297.8,322 297.8,323 286.4,337 276,350.9 268.8,358 250.2,374 240,381.3 224.8,390 214,395.3 200,400.9 199,400.1 189,387.3 183,380.7 175.9,374 171,371.3 166,369.4 133,369.4 133,212.8 142,212.8 142.1,209 141.1,208 141.1,201 140.1,200 140.2,193 139.2,192 139.2,185 138.2,184 138.2,177 137.2,176 137.3,169 136.3,168 136.3,161 135.3,160 135.3,153 134.3,152 134.3,145 133.3,144 133.3,137 133,136.7 133.2,109Z"/>
<path fill="#58c0f4" d="M200,52 811.4,52 810.1,52.5 806,52.8 768.1,55 714,55.6 671,57 640,57.5 630,58.5 605.4,59.5 601.3,60 596,61.2 564,62.4 530,64.4 480,66.3 464,66.7 432,66.7 364,65.4 342,66.1 332,66.8 331.3,67.5 329.5,68 326.7,69.5 321.8,71 298,74.5 266,74 234,72 222,70.7 208.4,68.5 192,67.7 180.1,66 178.2,65.5 177.4,65 178.2,64.5 177.1,64 172.9,63 172.6,62.5 173.2,62 178,59.1 186,55.8 200,52ZM133.2,109 143.1,127 152.3,145 156.8,178 162.9,205 167,214.2 188,221.5 203,227.2 209.1,230 216.9,236 224.7,243 241.9,260 250.9,268 258.8,276 266,284.6 274.1,293 282,305.5 294.7,322 294.7,323 282.7,338 274.7,349 267.7,356 250,371.4 240,379 226,387.3 212.9,394 200,399.3 199,398.5 189,385.8 182,378.3 177.4,374 171,370.6 166,368.7 133,368.7 133,214.1 142,214.1 142.1,209 141.1,208 141.2,201 140.2,200 140.2,193 139.2,192 139.2,185 138.2,184 138.3,177 137.3,176 137.3,169 136.3,168 136.3,161 135.3,160 135.3,153 134.3,152 134.3,145 133.3,144 133.3,137 133,136.7 133.2,109Z"/>
<path fill="#66d0f4" d="M212,52.3 212.4,52 778.4,52 776.8,52.5 762,53.4 752.1,55 710,55.6 668.2,57 638,57.4 630,58.2 604,59.2 596,60.3 474,66 432,66.3 364,65.1 338,65.9 332,66.2 330.6,67.5 328.2,68 325.3,69.5 320,71 298,74 266,73.8 234,71.9 222,70.6 209.6,68.5 192,67.6 180,65.8 178,65 178.9,64.5 178,64 174.7,63 181,59.8 197,54.8 212,52.3ZM133.1,109 143,127 152,145 155.9,175 157,180.5 162.5,205 167,215.5 190,223.6 204,229.1 207.4,231 216.2,238 224,245 238.9,260 250.3,270 258,278 266,287.6 271.1,293 280,306.7 291.6,322 291.6,323 280,337.6 271.7,349 261.2,359 249.6,369 239.6,377 226.5,385 213.2,392 200,397.6 199,396.9 189.6,385 181,376 177.4,373 171,369.8 166,368 133,368 133,215.4 142,215.4 142.1,209 141.1,208 141.2,201 140.2,200 140.2,193 139.2,192 139.2,185 138.2,184 138.3,177 137.3,176 137.3,169 136.3,168 136.4,161 135.4,160 135.4,153 134.4,152 134.4,145 133.4,144 133.4,137 133,136.6 133.1,109Z"/>
<path fill="#74e4ec" d="M226,52 281.4,52 282,52.5 289.6,54 294.3,54.5 300,56 330.9,52.5 331.8,52 752.1,52 751.4,52.5 745.7,53.5 740.5,55 710,55.4 696,56.1 672,56.4 665.4,57 636,57.3 630,58 606,58.6 596,59.4 556,61.1 530,62.8 468,65.8 398,65.7 366,64.8 334,65.5 332,65.6 330,67.5 327,68 325.3,69 322,70.1 310,72.3 298,73.5 266,73.6 232,71.6 222,70.4 210.9,68.5 192,67.5 179.4,65.5 178.6,65 179.6,64.5 176.6,63 188,59 202,55.4 218.8,53.5 226,52ZM133.3,109.5 142.8,127 151.7,145 155.5,175 157.4,184 162.1,205 167,216.8 188,224.2 202.8,230 216,240.3 224.3,248 234,258.3 247.6,270 257.3,280 269,294 277.4,307 288.6,322 288.6,323 278,336.4 268.8,349 260,357.3 250,366 236.1,377 228,382.1 214,389.7 200,396 199,395.3 189.2,383 180.4,374 177,371.9 171,369 166,367.3 133,367.3 133,216.7 143,216.7 143,216 142,215 142.1,209 141.1,208 141.2,201 140.2,200 140.2,193 139.2,192 139.3,185 138.3,184 138.3,177 137.3,176 137.3,169 136.3,168 136.4,161 135.4,160 135.4,153 134.4,152 134.4,145 133.4,144 133.4,137 133,136.6 133,109 133.3,109.5Z"/>
<path fill="#7befdf" d="M346,52 732.7,52 732.4,52.5 728.4,55 700,55.1 694.9,56 668,56.1 664,56.4 662,57 634,57.1 628,57.6 606,57.8 596,58.5 576,59 562.9,60 540,60.7 530,62 506,62.7 464,65.5 398,65.5 388,64.9 366,64.5 332,65 329.4,67.5 325.8,68 324,69 318.9,70.5 310,72 296,73.1 266,73.5 232,71.4 222,70.3 212.1,68.5 195,67.7 183,66.2 180,65.5 179.2,65 180.3,64.5 178.4,63 181.6,62.5 191,59.5 207,56 218.7,54.5 232,53.5 264,52.7 266,52.7 273.7,54 290,55.1 295.1,56.5 296.8,57.5 298,58.8 300,58.9 304,57.7 310,56.8 332,56 346,52ZM133.2,109.5 142.6,127 151.3,145 155.2,175 157.7,187 161.7,205 166,216.3 167,218.1 199.6,230 207.8,236 215.1,242 224,250.4 232.8,260 245.9,271 256.6,282 265.4,293 275.2,308 285.5,322 285.5,323 275.3,336 265.8,349 250,363.3 236,374.5 228,380 214,387.9 200,394.3 199,393.6 190,382.4 181.8,374 177,371 171,368.3 166,366.5 133,366.5 133,218 143,218 143,216 142,215 142.1,209 141.1,208 141.2,201 140.2,200 140.2,193 139.2,192 139.3,185 138.3,184 138.3,177 137.3,176 137.4,169 136.4,168 136.4,161 135.4,160 135.4,153 134.4,152 134.4,145 133.4,144 133.4,137 133,136.6 133.2,109.5Z"/>
<path fill="#79edd5" d="M358,52.4 358.4,52 530.2,52 531.5,52.5 552,54.8 563.4,57 498,60.7 494.8,62 492,62.6 483.5,63.5 464,64.7 414,64.5 366,63.7 332,64.2 328.8,67.5 324.6,68 322.8,69 320,69.9 311.6,71.5 298,72.8 266,73.3 232,71.3 222,70.1 213.4,68.5 195,67.6 182.9,66 179.9,65 181,64.5 180,63.5 180.2,63 184.6,62.5 196,59.4 214,56.1 230,54.4 266,54.2 280,54.9 288,55.8 293.6,57.5 296.5,60 300,60.4 305.9,58.5 314,57.5 344.3,56 358,52.4ZM133.1,109.5 142.4,127 151,145 154.9,175 158,190 161.4,205 166,217.7 167,219.4 196.1,230 204.8,236 214.6,244 223,252 230.2,260 244,271.7 254.2,282 263,293 270.9,306 282.4,322 282.4,323 262.8,349 250,360.5 239.8,369 228,378 214,386 200,392.6 199,391.9 190.1,381 183.3,374 176.6,370 167,365.8 133,365.6 133,219.3 143,219.3 143.1,216 142.1,215 142.2,209 141.2,208 141.2,201 140.2,200 140.3,193 139.3,192 139.3,185 138.3,184 138.3,177 137.3,176 137.4,169 136.4,168 136.4,161 135.4,160 135.4,153 134.4,152 134.4,145 133.4,144 133.4,137 133,136.6 133.1,109.5Z"/>
<path fill="#74e9ca" d="M366,53.9 430,53.9 452,54.3 466,54.8 494,57.2 497.8,58 496,58.6 493.9,60.5 491.9,61.5 485.2,62.5 466,63.7 430,63.8 366,62.8 332,63.5 328.2,67.5 323.3,68 321.5,69 318,70 310,71.4 298,72.6 266,73.2 232,71.2 222.4,70 214.6,68.5 200,67.9 190,67 183,65.9 180.5,65 181.7,64.5 181.2,63.5 182.1,63 187.6,62.5 200,59.5 218.6,56.5 232,55.1 266,54.6 278,55.3 288,56.8 291.4,58 294.1,60 298,61 300,61.1 306,59.4 311,58.5 328,57.2 354,56.2 356.7,56 366,53.9ZM133,109.5 142.2,127 150.6,145 154.5,175 158,191.7 161,205 166,219 167,220.7 192.5,230 201.8,236 214.1,246 220.4,252 227.7,260 242.8,273 252.6,283 260.7,293 266.8,304 279.3,322 279.3,323 269.3,336 260.8,348 250,357.8 226.3,377 214,384.1 200,390.9 199,390.2 191,380.5 184.8,374 178.3,370 167,364.9 133,364.7 133,220.6 143,220.6 143.1,216 142.1,215 142.2,209 141.2,208 141.2,201 140.2,200 140.3,193 139.3,192 139.3,185 138.3,184 138.3,177 137.3,176 137.4,169 136.4,168 136.4,161 135.4,160 135.4,153 134.4,152 134.4,145 133.4,144 133.4,137 133,136.6 133,109.5Z"/>
<path fill="#6de4bd" d="M262,55 272,55.3 282.7,56.5 287.2,57.5 291.8,60 298,61.7 300,61.8 304.2,61.5 305.8,61 306.8,60 314,58.7 334,57.4 350,57.1 474,57.3 487.8,58 490.7,59 490.8,60 487.6,61.5 484,62 464,63 416,62.9 404,62.5 398,62 366,62 332,62.7 327.5,67.5 322.1,68 318.5,69.5 311.2,71 298,72.4 266,73 232,71.1 223.4,70 215.9,68.5 201,67.9 191,67 183,65.8 181.1,65 182.3,64.5 182.4,63.5 183.9,63 190.6,62.5 205.3,59.5 225.6,56.5 236,55.6 262,55ZM133.2,110 142,127 150.3,145 154.2,175 158.4,195 160.6,205 166,220.3 167,222 186.3,229 191,231.1 201,237.6 213.5,248 225.2,260 241.2,274 250.2,283 259,294 266,307.2 276.2,322 276.2,323 266,336.5 261.1,344 257,349 242,361.9 224,376.3 212.7,383 200,389.2 199,388.6 190.2,378 185,373 179,369.4 167,363.9 133,363.7 133,221.9 143,221.9 143.1,216 142.1,215 142.2,209 141.2,208 141.3,201 140.3,200 140.3,193 139.3,192 139.3,185 138.3,184 138.4,177 137.4,176 137.4,169 136.4,168 136.4,161 135.4,160 135.4,153 134.4,152 134.4,145 133.4,144 133.4,137 133,136.6 133.2,110Z"/>
<path fill="#66dfb0" d="M258,55.5 266,55.3 280,56.7 284,57.5 291.1,60.5 299.9,62.5 330,62.7 331,63 329.6,65 326.9,67.5 320.9,68 319,69 316,69.8 306,71.5 298,72.2 266,72.9 232,70.9 224.4,70 217.1,68.5 201,67.8 191,66.9 184,65.8 181.7,65 183,64.5 183.6,63.5 185.7,63 193.6,62.5 211,59.4 228.4,57 238,56.2 258,55.5ZM342,57.5 398,57.1 464,57.5 482,58.3 485.9,59 487.1,60 485,61 482,61.7 464,62.7 428,62.7 398,61.9 322,61.9 312,61.3 310,60.6 309.4,60 310,59.9 320,58.6 342,57.5ZM133.1,110 141.8,127 150,145 153.9,175 158.6,198 160.2,205 166,221.6 167,223.3 185.3,230 191,233 201.2,240 213.1,250 222.7,260 240.8,276 249.4,285 256.7,294 261.2,302 266,311.7 273.1,322 273.1,323 266,332.4 260.8,341 254.1,349 222.8,375 212.9,381 200,387.5 199,386.9 191,377.4 186.5,373 180,369.1 167,362.9 133,362.8 133,223.2 143,223.2 143.1,216 142.1,215 142.2,209 141.2,208 141.3,201 140.3,200 140.3,193 139.3,192 139.3,185 138.3,184 138.4,177 137.4,176 137.4,169 136.4,168 136.4,161 135.4,160 135.4,153 134.4,152 134.4,145 133.4,144 133.4,137 133,136.6 133.1,110Z"/>
<path fill="#5dd9a3" d="M256,56 266,55.7 278.1,57 282,57.8 287,60 296.1,62.5 326,62.6 330.3,63 329,65 326.3,67.5 319.7,68 317.7,69 313.5,70 300,71.9 266,72.7 232,70.8 225.5,70 218.4,68.5 202,67.8 192,66.9 184,65.7 182.3,65 183.7,64.5 184.9,63.5 187,63.1 196.6,62.5 216,59.4 232,57.3 256,56ZM352,57.5 402,57.3 464,57.8 478,58.6 481.1,59 483.4,60 482.8,60.5 479.1,61.5 464,62.5 430,62.6 398,61.7 330,61.7 318,61.3 314,60.7 312.1,60 324,58.6 352,57.5ZM133.1,110 141.6,127 149.6,145 153.5,175 158.7,200 159.8,205 166,222.9 167,224.7 183.9,231 191,234.9 197,239 210,249.6 220.2,260 240.4,278 245.3,283 254.3,294 260.2,304 266,316.1 270.1,322 270,323 266,328.3 259.7,339 255.9,344 251.1,349 226.3,370 221.1,374 213.2,379 200,385.8 199,385.2 190.2,375 187,372.3 181,368.6 167,362 133,361.8 133,224.5 144,224.5 144,224 143,223 143.1,216 142.2,215 142.2,209 141.2,208 141.3,201 140.3,200 140.3,193 139.3,192 139.4,185 138.4,184 138.4,177 137.4,176 137.4,169 136.4,168 136.5,161 135.5,160 135.5,153 134.5,152 134.5,145 133.5,144 133.5,137 133,136.5 133.1,110Z"/>
<path fill="#53d295" d="M256,56.4 266,56.1 276,57.2 279.6,58 286,60.4 293.3,62.5 324,62.6 329.6,63 328.4,65 325.7,67.5 318.4,68 316.5,69 312.1,70 300,71.7 266,72.6 232,70.7 226.5,70 219.6,68.5 202,67.7 192,66.8 185,65.8 182.9,65 186.1,63.5 189,63 205,61.9 222,59.3 236,57.7 256,56.4ZM362,57.5 414,57.5 460,58.1 474,58.8 479.7,60 479.1,60.5 474.8,61.5 464,62.2 432,62.4 398,61.6 332,61.5 318,60.7 314.7,60 318,59.5 331.3,58.5 362,57.5ZM133.3,110.5 141.5,127 149.3,145 153.2,175 158.3,200 159.4,205 165.9,224 167,226 178.1,230 182,231.8 189,235.6 195.6,240 208.9,251 218,260.3 240,280 247.2,288 253.3,296 259.1,306 263.2,314 266,320.6 267,322 266.9,323 263.7,329 258.8,337 254.2,343 249.3,348 220.9,372 213.4,377 200,384.1 199,383.5 190.7,374 188,371.8 182,368.2 167,361 133,360.8 133,225.8 144,225.8 144,224 143.1,223 143.2,216 142.2,215 142.3,209 141.3,208 141.3,201 140.3,200 140.3,193 139.3,192 139.4,185 138.4,184 138.4,177 137.4,176 137.4,169 136.5,168 136.5,161 135.5,160 135.5,153 134.5,152 134.5,145 133.5,144 133.5,137 133,136.5 133,110.1 133.3,110.5Z"/>
<path fill="#49cb87" d="M266,56.5 276,57.8 290.6,62.5 322,62.6 328.9,63 327.8,65 325.1,67.5 317.2,68 315.2,69 312,69.7 300,71.5 264,72.3 250,71.3 232,70.5 227.5,70 220.9,68.5 196,67.1 186.9,66 184.3,65.5 183.5,65 187,63.6 189,63.2 204.4,62.5 232,58.7 248,57.3 266,56.5ZM350,57.9 398,57.6 442,58 466,58.6 471.4,59 476,60 475.4,60.5 470.6,61.5 464,61.9 432,62.1 398,61.4 332,61.3 324,60.9 317.4,60 328,58.9 350,57.9ZM133.2,110.5 141.3,127 149,145 152.9,175 158.4,202 159,205 164.7,222 166,225.6 167,227.3 175,230.2 181.1,233 188.3,237 195,241.6 207.4,252 217.4,262 239.6,282 248.9,293 252.3,298 260.8,313 264.9,322 264.8,323 262.9,327 257.9,335 253.4,341 248,346.6 234,358.1 226,365.6 220,370.5 210.2,377 200,382.4 199,381.8 192.2,374 188,370.7 176,364.1 167,360 133,359.9 133,227.1 144,227.1 144.1,224 143.1,223 143.2,216 142.2,215 142.3,209 141.3,208 141.3,201 140.3,200 140.4,193 139.4,192 139.4,185 138.4,184 138.4,177 137.4,176 137.5,169 136.5,168 136.5,161 135.5,160 135.5,153 134.5,152 134.5,145 133.5,144 133.5,137 133,136.5 133.2,110.5Z"/>
<path fill="#40c57b" d="M264,56.9 267.3,57 273.7,58 287.8,62.5 320,62.6 328.2,63 327.2,65 324.5,67.5 316,68 314,69 311.7,69.5 300,71.3 264,72.2 250,71.1 232,70.4 222.1,68.5 201,67.5 189,66.2 184.9,65.5 184.1,65 188,63.6 191,63.2 209.1,62.5 232,59.3 252.7,57.5 264,56.9ZM354,58 398,57.7 438,58.2 464,58.8 472.3,60 471.7,60.5 470,60.9 464,61.6 438,61.9 398,61.3 332,61.1 320,60 332,58.9 354,58ZM133.1,110.5 141.1,127 148.6,145 152.5,175 158.7,205 165,224.1 167,228.6 173.5,231 181,234.6 188,238.7 194,242.9 204.8,252 217,264 237.1,282 246.6,293 250.1,298 259.5,314 263.2,322 263.2,323 261.1,327 256,334.6 251.8,340 247,345 234,355.5 226,363.3 219.2,369 210,375.2 200,380.7 199,380.1 192.6,373 188,369.6 177,363.5 167,359.1 133,358.9 133,228.4 144,228.4 144.1,224 143.1,223 143.2,216 142.2,215 142.3,209 141.3,208 141.3,201 140.4,200 140.4,193 139.4,192 139.4,185 138.4,184 138.4,177 137.4,176 137.5,169 136.5,168 136.5,161 135.5,160 135.5,153 134.5,152 134.5,145 133.5,144 133.5,137 133,136.5 133.1,110.5Z"/>
<path fill="#37bf70" d="M262,57.4 266,57.2 270.7,58 285.1,62.5 327.5,63 326.6,65 323.9,67.5 314.8,68 312.7,69 310.4,69.5 300,71.1 264,72 252,71 232,70.3 223.4,68.5 201.2,67.5 189,66.1 185.5,65.5 184.7,65 189,63.6 192,63.2 213.8,62.5 232,60 262,57.4ZM360,58 398,57.9 434,58.3 460,59.1 468.5,60 468,60.5 464,61.2 432,61.7 400,61.2 332,60.8 322.7,60 326,59.6 360,58ZM133.3,111 140.9,127 148.3,145 152.2,175 157.8,203 163.8,222 166.5,229 167,229.9 174.5,233 182.3,237 193,244.1 202.2,252 216,265.4 234.7,282 244.2,293 248,298.3 257.7,314 261.6,322 261.1,324 257.3,330 251.1,338 245.4,344 234,353 224.9,362 218,367.8 209,374 200,379 199,378.4 194,372.9 188.9,369 178,362.8 167,358.1 163,358.5 161,358 133,358 133,229.7 144,229.7 144.1,224 143.1,223 143.2,216 142.2,215 142.3,209 141.3,208 141.4,201 140.4,200 140.4,193 139.4,192 139.4,185 138.4,184 138.5,177 137.5,176 137.5,169 136.5,168 136.5,161 135.5,160 135.5,153 134.5,152 134.5,145 133.5,144 133.5,137 133,136.5 133,110.5 133.3,111Z"/>
<path fill="#20ba5d" d="M262,57.9 266,57.7 268,58.1 274,59.6 282.3,62.5 326.8,63 326,65 323.3,67.5 313.5,68 310,69.3 300,70.9 266,72 254,70.9 232,70.2 224.6,68.5 202,67.5 190,66.2 186.1,65.5 185.3,65 189,63.9 193,63.3 203,62.7 218.5,62.5 232.9,60.5 262,57.9ZM356,58.5 366,58 398,58 432,58.5 464.7,60 464.2,60.5 462,60.6 432,61.5 332,60.6 325.3,60 328,59.7 356,58.5ZM133.2,111 140.7,127 148,145 151.9,175 157.2,202 157.9,205 166,229.6 167,231.2 180,237.4 186,241 191.7,245 199.7,252 217.3,269 232.2,282 241.9,293 246,298.6 256,314.3 260,322 259.4,324 256.1,329 248.8,338 243.9,343 232.4,352 225.7,359 217.6,366 209.1,372 200,377.3 199,376.7 194,371.5 189,367.9 178,361.7 167,357.2 165,358 163,358 161,357 133,357 133,231 144,231 144.1,224 143.1,223 143.2,216 142.3,215 142.3,209 141.3,208 141.4,201 140.4,200 140.4,193 139.4,192 139.4,185 138.4,184 138.5,177 137.5,176 137.5,169 136.5,168 136.5,161 135.5,160 135.5,153 134.5,152 134.5,145 133.5,144 133.5,137 133,136.5 133.2,111Z"/>
<path fill="#1bbe58" d="M264,58.4 266,58.2 270,59.2 279.6,62.5 326.1,63 325.4,65 322.7,67.5 312.3,68 310.2,69 300,70.7 266,71.6 254,70.7 234,70.1 231.7,70 224,68.3 202.5,67.5 190,66.1 186.7,65.5 185.9,65 190,63.9 194,63.3 204,62.7 223.3,62.5 234,61.1 264,58.4ZM362,58.5 410,58.5 432,58.9 457,60 452.1,60.5 432,61.1 332,60.4 328,60 332,59.6 362,58.5ZM133.1,111 140.5,127 147.6,145 151.5,175 157.5,205 164,225.4 166,230.9 167,232.6 179,238.4 189.1,245 197.2,252 215.9,270 230.7,283 239.5,293 244,299 254.6,315 258.5,322 258,323.7 254.2,329 247.4,337 242.4,342 232,350.2 224,358.4 216.3,365 208,370.9 200,375.6 199,375.1 193,369.4 185,364.3 176.7,360 167,356.2 165,357.4 163,357.5 161.5,357 161,356.1 133,356.1 133,232.4 145,232.4 145,232 144,231 144.2,224 143.2,223 143.3,216 142.3,215 142.3,209 141.4,208 141.4,201 140.4,200 140.4,193 139.4,192 139.5,185 138.5,184 138.5,177 137.5,176 137.5,169 136.5,168 136.5,161 135.5,160 135.5,153 134.5,152 134.5,145 133.5,144 133.5,137 133,136.5 133.1,111Z"/>
<path fill="#16c253" d="M264,59 266,58.8 270,59.9 276.8,62.5 325.4,63 324.8,65 322,67.5 311.1,68 308.9,69 299.4,70.5 266,71.3 254,70.5 234,70 226,68.4 203.1,67.5 190.3,66 187.3,65.5 186.5,65 191,63.9 196,63.3 206,62.7 228,62.5 264,59ZM360,58.9 398,58.7 430,59.2 448.4,60 430,60.7 332,60.1 360,58.9ZM133,111 140.3,127 147.3,145 151.2,175 157.1,205 163,224 166.4,233 167,234 177.1,239 186.6,245 194.8,252 214.4,271 228.2,283 237.1,293 241.8,299 252.8,315 256.9,322 256.8,323 253.2,328 241,341 232,348.3 223.1,357 216,363.2 208,369 200,373.9 193,368.1 185,363 176,358.6 167,355.3 165,356.9 162,357 161,355.2 133,355.2 133,233.8 145,233.8 145,232 144.1,231 144.2,224 143.2,223 143.3,216 142.3,215 142.4,209 141.4,208 141.4,201 140.4,200 140.4,193 139.5,192 139.5,185 138.5,184 138.5,177 137.5,176 137.5,169 136.5,168 136.6,161 135.6,160 135.6,153 134.6,152 134.6,145 133.6,144 133.6,137 133,136.4 133,111Z"/>
<path fill="#13c84c" d="M266,59.5 274,62.5 324.7,63 324.2,65 321.4,67.5 309.9,68 307.7,69 298,70.4 266,70.9 234,69.7 228.3,68.5 224,68 203.7,67.5 191,66 187.9,65.5 187.1,65 193,63.7 202,62.9 233.1,62.5 266,59.5ZM354,59.5 366,59 398,59 439.8,60 430,60.4 364,60 356,59.9 354,59.7 353,59.5 354,59.5ZM133.2,111.5 140.2,127 146.9,145 150.9,175 156.7,205 162.6,224 166,233.7 167,235.4 176,239.9 184.1,245 192.3,252 212.9,272 225.7,283 231.3,289 238.8,298 251,315 255.3,322 255.2,323 252,327.3 239.7,340 232,346.3 220.8,357 214.9,362 208,367.1 200,372.2 193,366.7 185,361.7 176,357.5 167,354.4 165,356.3 162,356.5 161,354.3 133,354.3 133,235.2 145,235.2 145.1,232 144.1,231 144.2,224 143.2,223 143.3,216 142.3,215 142.4,209 141.4,208 141.4,201 140.4,200 140.5,193 139.5,192 139.5,185 138.5,184 138.5,177 137.5,176 137.6,169 136.6,168 136.6,161 135.6,160 135.6,153 134.6,152 134.6,145 133.6,144 133.6,137 133,136.4 133.2,111.5Z"/>
<path fill="#12d044" d="M362,59.5 407.1,59.5 362,59.5ZM264,60.3 266,60.1 271.3,62.5 324,63 323.7,65 320.8,67.5 308.6,68 306.4,69 298,70.2 266,70.6 234,69.4 225.4,68 204.3,67.5 191,65.9 188.6,65.5 187.7,65 193,63.8 203,62.9 243.7,62.5 264,60.3ZM133.1,111.5 140,127 146.6,145 150.5,175 156.3,205 162.1,224 166,235.1 167,236.8 177,242.1 181.6,245 184,247 190.9,253 210.3,272 224.2,284 230,290.1 237.3,299 245.1,310 249.9,316 253.7,322 253.6,323 250.4,327 241.6,336 219.6,356 210,363.8 200,370.5 199,370.1 192,364.6 185,360.5 177.4,357 167,353.5 165,355.7 162,356 161,353.4 133,353.4 133,236.6 145,236.6 145.1,232 144.1,231 144.2,224 143.2,223 143.3,216 142.3,215 142.4,209 141.4,208 141.5,201 140.5,200 140.5,193 139.5,192 139.5,185 138.5,184 138.5,177 137.5,176 137.6,169 136.6,168 136.6,161 135.6,160 135.6,153 134.6,152 134.6,145 133.6,144 133.6,137 133,136.4 133.1,111.5Z"/>
<path fill="#11d83c" d="M264,61.5 266,61.4 268.5,62.5 323.3,63 323.1,65 320.2,67.5 307.4,68 305.1,69 298,70 266,70.2 234,69 227.2,68 204.9,67.5 191,65.8 188.3,65 194,63.8 204,62.9 254.8,62.5 264,61.5ZM133,111.5 139.8,127 146.3,145 150.2,175 155.9,205 161.9,225 166,236.6 167,238.2 179.1,245 186,250.8 207,271.4 223.8,286 229.3,292 235.1,299 243.1,310 248.1,316 252.1,322 252,323 247.7,328 218,355.4 209,362.7 200,368.8 199,368.4 191.7,363 185,359.2 177,355.8 167,352.6 165,355 164,355.5 162,355.5 161.1,353 160,352.5 133,352.5 133,238 145,238 145.1,232 144.1,231 144.3,224 143.3,223 143.4,216 142.4,215 142.4,209 141.4,208 141.5,201 140.5,200 140.5,193 139.5,192 139.5,185 138.5,184 138.5,177 137.6,176 137.6,169 136.6,168 136.6,161 135.6,160 135.6,153 134.6,152 134.6,145 133.6,144 133.6,137 133,136.4 133,111.5Z"/>
<path fill="#12dd36" d="M203,63 220,62.6 266,62.5 322.6,63 322.5,65 319.6,67.5 306.2,68 303.9,69 298,69.8 266,69.9 234,68.7 229,68 205.5,67.5 192,65.9 189.8,65.5 188.9,65 194,64 203,63ZM133.2,112 139.6,127 145.9,145 149.9,175 155.6,205 161.4,225 166,238 167,239.6 176.6,245 185,252 205,271.9 210.6,277 218.1,283 222.3,287 231.3,297 241.1,310 246.3,316 250.5,322 250.4,323 246,327.9 241.1,332 216.2,355 208,361.6 200,367.1 199,366.8 191,361.1 185,358 177,354.7 167,351.7 165,354.3 164,355 162,355 161.3,353 160,351.6 133,351.6 133,239.4 145,239.4 145.2,232 144.2,231 144.3,224 143.3,223 143.4,216 142.4,215 142.4,209 141.5,208 141.5,201 140.5,200 140.5,193 139.5,192 139.5,185 138.5,184 138.6,177 137.6,176 137.6,169 136.6,168 136.6,161 135.6,160 135.6,153 134.6,152 134.6,145 133.6,144 133.6,137 133,136.4 133.2,112Z"/>
<path fill="#16df32" d="M204,63 266,62.5 321.9,63 321.9,65 319,67.5 305,68 302.6,69 298,69.6 266,69.5 230.9,68 206.2,67.5 192,65.8 189.5,65 194.7,64 204,63ZM133.1,112 139.4,127 145.6,145 149.6,175 155.2,205 161.3,226 166,239.4 167,241 174.1,245 182.6,252 191,260 203.6,273 208,277 215.6,283 221,288 229.2,297 239.1,310 245.4,317 248.9,322 248.8,323 245.1,327 239,332 222,348 211,357.5 200,365.4 199,365.1 192,360.3 185.6,357 177,353.7 167,350.8 164,354.5 162,354.5 161.5,353 160.2,352 160,350.7 133,350.7 133,240.8 146,240.8 146,240 145,239 145.2,232 144.2,231 144.3,224 143.3,223 143.4,216 142.4,215 142.5,209 141.5,208 141.5,201 140.5,200 140.5,193 139.5,192 139.6,185 138.6,184 138.6,177 137.6,176 137.6,169 136.6,168 136.6,161 135.6,160 135.6,153 134.6,152 134.6,145 133.6,144 133.6,137 133,136.4 133.1,112Z"/>
<path fill="#1cdd30" d="M205,62.9 234,62.6 314,62.8 321.2,63 321.3,65 318.4,67.5 303.7,68 301.4,69 298,69.4 266,69.2 233.4,68 206.8,67.5 192,65.7 190.1,65 205,62.9ZM133.1,112 139.2,127 145.3,145 149.2,175 154.8,205 161,226.7 166,240.9 167,242.4 171.6,245 182,253.7 190.7,262 202,274 213.1,283 220,289.4 227,297 236.3,309 242.8,316 247.3,322 247.2,323 244,326.4 236.9,332 221,347 210,356.4 200,363.7 199,363.4 192,358.9 185,355.6 177,352.7 167,349.9 164,354 162,354 161.6,353 160.4,352 160,349.8 133,349.8 133,242.2 146,242.2 146.1,240 145.1,239 145.2,232 144.2,231 144.3,224 143.3,223 143.4,216 142.4,215 142.5,209 141.5,208 141.5,201 140.5,200 140.6,193 139.6,192 139.6,185 138.6,184 138.6,177 137.6,176 137.6,169 136.6,168 136.6,161 135.6,160 135.6,153 134.6,152 134.6,145 133.6,144 133.6,137 133,136.4 133.1,112Z"/>
<path fill="#25d730" d="M205,63 234,62.6 314,62.8 320.5,63 320.7,65 317.8,67.5 302.5,68 300.1,69 298,69.2 266,68.9 241,68 207.4,67.5 193,65.7 190.7,65 205,63ZM133.3,113 139,127 144.9,145 148.9,175 154.4,205 160.6,227 166,242.3 167,243.8 169.1,245 174.1,249 184.3,258 201.5,276 211,283.4 219.3,291 226.5,299 235.1,310 241,316 245.7,322 245.6,323 242.6,326 234.8,332 219,347 208.3,356 200,362 199,361.7 191,357 185,354.4 177,351.6 167,349 164,353.5 162,353.5 160.5,352 160,348.9 133,348.9 133,243.6 146,243.6 146.1,240 145.1,239 145.2,232 144.3,231 144.4,224 143.4,223 143.4,216 142.5,215 142.5,209 141.5,208 141.5,201 140.6,200 140.6,193 139.6,192 139.6,185 138.6,184 138.6,177 137.6,176 137.6,169 136.6,168 136.7,161 135.7,160 135.7,153 134.7,152 134.7,145 133.7,144 133.7,137 133,136.3 133,112.1 133.3,113Z"/>
<path fill="#38cc33" d="M206,63 234,62.6 314,62.8 319.8,63 320.1,65 317.2,67.5 301.3,68 298,69 266,68.6 249.2,68 218,67.8 208,67.5 192.2,65.5 191.3,65 193,64.7 206,63ZM133.2,113 138.9,127 144.6,145 148.6,175 154,205 160.4,228 166,243.7 167,245.3 176.4,253 185.1,261 192,268 200,277 209.3,284 218,292 225.3,300 233.1,310 239.3,316 244.2,322 244,323 242,325 238,328.4 232.7,332 216.9,347 207.3,355 200,360.3 199,360.1 191.7,356 185,353.2 177,350.6 167,348.1 164,353 162,353 160.7,352 160,348 133,348 133,245 146,245 146.1,240 145.1,239 145.3,232 144.3,231 144.4,224 143.4,223 143.5,216 142.5,215 142.5,209 141.5,208 141.6,201 140.6,200 140.6,193 139.6,192 139.6,185 138.6,184 138.6,177 137.6,176 137.7,169 136.7,168 136.7,161 135.7,160 135.7,153 134.7,152 134.7,145 133.7,144 133.7,137 133,136.3 133.2,113Z"/>
<path fill="#41cb3a" d="M207,63 234,62.6 312,62.8 319.1,63 319.5,65 316.6,67.5 300.1,68 298,68.5 218,67.8 208.6,67.5 192.8,65.5 191.9,65 193,64.8 207,63ZM133.1,113 138.7,127 144.3,145 148.2,175 153.6,205 161.5,233 164.3,241 167,247.3 175.1,254 183,261.2 199,278 208,285 216,292.3 223.2,300 231.1,310 237.5,316 242.6,322 242.5,323 240.3,325 236,328.5 230.7,332 216,346 206.4,354 200,358.7 199,358.5 191,354.3 185,352 167,346.9 164,352.4 162,352.5 160.8,352 160.1,348 159,346.8 133,346.8 133,247 146,247 146.2,240 145.2,239 145.3,232 144.3,231 144.4,224 143.4,223 143.5,216 142.5,215 142.5,209 141.5,208 141.6,201 140.6,200 140.6,193 139.6,192 139.6,185 138.6,184 138.6,177 137.6,176 137.7,169 136.7,168 136.7,161 135.7,160 135.7,153 134.7,152 134.7,145 133.7,144 133.7,137 133,136.3 133.1,113Z"/>
<path fill="#4aca40" d="M207,63 234,62.6 312,62.8 318.4,63 318.9,65 315.9,67.5 308,67.8 220,67.8 209.3,67.5 193.4,65.5 192.5,65 193,64.9 207,63ZM133,113 138.5,127 143.9,145 147.9,175 153.2,205 160.9,233 167,249.3 181.6,262 199,279.9 207.9,287 214.5,293 221.1,300 229.2,310 235.7,316 241,322 240.9,323 238.6,325 234,328.6 228.6,332 215.2,345 200,357.1 199,356.9 193,353.9 186,351.1 167,345.7 164,351.8 161,352 160.2,348 159.1,347 159,345.6 133,345.6 133,248.9 147,248.9 147,248 146,247 146.2,240 145.2,239 145.3,232 144.3,231 144.4,224 143.4,223 143.5,216 142.5,215 142.6,209 141.6,208 141.6,201 140.6,200 140.6,193 139.6,192 139.6,185 138.6,184 138.7,177 137.7,176 137.7,169 136.7,168 136.7,161 135.7,160 135.7,153 134.7,152 134.7,145 133.7,144 133.7,137 133,136.3 133,113Z"/>
<path fill="#53c946" d="M208,63 234,62.6 312,62.9 317.7,63 318.3,65 315.3,67.5 308,67.8 220,67.8 209.9,67.5 194.1,65.5 193.1,65 194,64.8 208,63ZM133.2,114 135.1,118 138.3,127 143.6,145 147.6,175 152.8,205 160.4,233 167,251.3 180.4,263 193.8,277 199,281.8 207,288.2 213.3,294 219.8,301 227.2,310 234,316.1 239.4,322 239.3,323 238,324.1 234,327.3 226.6,332 213.2,345 200,355.4 199,355.3 193,352.5 187,350.3 167,344.5 164,351.2 161,351.5 160.3,348 159.2,347 159,344.4 133,344.4 133,250.9 147,250.9 147.1,248 146.1,247 146.2,240 145.2,239 145.3,232 144.4,231 144.5,224 143.5,223 143.5,216 142.5,215 142.6,209 141.6,208 141.6,201 140.6,200 140.6,193 139.6,192 139.7,185 138.7,184 138.7,177 137.7,176 137.7,169 136.7,168 136.7,161 135.7,160 135.7,153 134.7,152 134.7,145 133.7,144 133.7,137 133,136.3 133.2,114Z"/>
<path fill="#5cc84d" d="M209,63 264,62.6 312,62.9 317,63 317.7,65 314.7,67.5 308,67.8 220,67.8 210.5,67.5 194.7,65.5 194,65 209,63ZM133.1,114 135,118 138.1,127 143.2,145 147.2,175 152.5,205 160,233.4 166,251.2 167,253.2 179.2,264 196.1,281 212,294.9 218.6,302 225.3,310 234,317.8 237.8,322 237.7,323 234,326 224.6,332 211.1,345 200,353.8 199,353.8 188,349.3 167,343.3 164,350.5 163,351 161,351 160.4,348 159.3,347 159,343.2 133,343.2 133,252.9 147,252.9 147.1,248 146.1,247 146.3,240 145.3,239 145.4,232 144.4,231 144.5,224 143.5,223 143.5,216 142.6,215 142.6,209 141.6,208 141.6,201 140.6,200 140.7,193 139.7,192 139.7,185 138.7,184 138.7,177 137.7,176 137.7,169 136.7,168 136.7,161 135.7,160 135.7,153 134.7,152 134.7,145 133.7,144 133.7,137 133,136.3 133.1,114Z"/>
<path fill="#66ca54" d="M209,63 264,62.6 312,62.9 316.3,63 317.2,65 314.1,67.5 308,67.7 220,67.8 211.1,67.5 195.3,65.5 194.3,65 209,63ZM133.4,115 134.9,118 137.9,127 142.9,145 146.9,175 152.1,205 158.2,229 166,253.2 167,255.2 179.1,266 189.8,277 210.9,296 223.4,310 232,317.6 236.2,322 236.1,323 234,324.7 222.5,332 209.1,345 200,352.2 199,352.2 193,349.7 182,346.2 167,342.1 166,343.9 164,349.7 163,350.5 161,350.5 160.6,348 159.4,347 159,342 133,342 133,254.8 147,254.8 147.1,248 146.2,247 146.3,240 145.3,239 145.4,232 144.4,231 144.5,224 143.5,223 143.6,216 142.6,215 142.6,209 141.6,208 141.7,201 140.7,200 140.7,193 139.7,192 139.7,185 138.7,184 138.7,177 137.7,176 137.7,169 136.7,168 136.7,161 135.7,160 135.7,153 134.7,152 134.7,145 133.7,144 133.7,137 133,136.3 133,114 133.4,115Z"/>
<path fill="#70d05a" d="M210,63 236,62.6 310,62.9 315.6,63 316.6,65 313.5,67.5 306,67.8 220,67.7 211.7,67.5 195.9,65.5 195,65 210,63ZM133.2,115 134.7,118 137.7,127 142.6,145 146.6,175 151.7,205 158.8,233 166,255.2 167,257.2 177.9,267 187.7,277 197,285.7 208,295.3 214.5,302 221.4,310 234.6,322 234.5,323 233.1,324 220.5,332 208.2,344 200,350.6 199,350.6 181,344.5 167,340.9 166,342.7 163.8,349 163,350 161,350 160.7,348 159.5,347 159.1,342 158,340.8 133,340.8 133,256.8 148,256.8 148,256 147,255 147.2,248 146.2,247 146.3,240 145.3,239 145.4,232 144.4,231 144.5,224 143.5,223 143.6,216 142.6,215 142.6,209 141.6,208 141.7,201 140.7,200 140.7,193 139.7,192 139.7,185 138.7,184 138.7,177 137.7,176 137.7,169 136.7,168 136.8,161 135.8,160 135.8,153 134.8,152 134.8,145 133.8,144 133.8,137 133,136.2 133.2,115Z"/>
<path fill="#7cd462" d="M211,63 264,62.6 310,62.9 314.9,63 316,65 312.9,67.5 306,67.8 220,67.7 212.3,67.5 196,65.2 195.5,65 197,64.8 211,63ZM133.1,115 134.6,118 137.6,127 142.2,145 146.2,175 151.3,205 158.3,233 166,257.2 167,259.2 176.8,268 196,286.7 207.6,297 219.5,310 233,322 232.8,323 232,323.5 225.9,327 218.5,332 206.2,344 200,349 199,349 180,342.8 167,339.7 163.3,349 163,349.3 161,349.3 160.8,348 159.6,347 159.2,342 158.1,341 158,339.6 133,339.6 133,258.8 148,258.8 148.1,256 147.1,255 147.2,248 146.2,247 146.4,240 145.4,239 145.5,232 144.5,231 144.5,224 143.6,223 143.6,216 142.6,215 142.7,209 141.7,208 141.7,201 140.7,200 140.7,193 139.7,192 139.7,185 138.7,184 138.7,177 137.7,176 137.8,169 136.8,168 136.8,161 135.8,160 135.8,153 134.8,152 134.8,145 133.8,144 133.8,137 133,136.2 133.1,115Z"/>
<path fill="#86da68" d="M211,63 264,62.6 310,62.9 314.2,63 315.4,65 312.3,67.5 306,67.7 222,67.7 213,67.5 197.1,65.5 196.2,65 211,63ZM133.4,116 134.5,118 137.4,127 141.9,145 145.9,175 150.9,205 158,234 166,259.2 167,261.1 175.7,269 195,287.8 206.5,298 217.5,310 231.1,322 230.8,323 224,326.8 216.4,332 204.2,344 200,347.4 199,347.5 181,341.6 167,338.5 166,340.4 163.4,348 163,348.6 161,348.6 160.9,348 159.7,347 159.2,342 158.2,341 158,338.4 133,338.4 133,260.8 148,260.8 148.1,256 147.1,255 147.3,248 146.3,247 146.4,240 145.4,239 145.5,232 144.5,231 144.6,224 143.6,223 143.6,216 142.6,215 142.7,209 141.7,208 141.7,201 140.7,200 140.7,193 139.7,192 139.7,185 138.7,184 138.8,177 137.8,176 137.8,169 136.8,168 136.8,161 135.8,160 135.8,153 134.8,152 134.8,145 133.8,144 133.8,137 133,136.2 133,115.2 133.4,116Z"/>
<path fill="#92de6e" d="M212,63 264,62.6 310,62.9 313.5,63 314.8,65 311.7,67.5 306,67.7 222,67.7 213.6,67.5 197.7,65.5 196.8,65 212,63ZM133.2,116 134.4,118 137.2,127 141.6,145 145.6,175 150.5,205 157.5,234 166,261.3 167,263.1 194,288.8 205,298.6 215.6,310 229,322 228.7,323 223,326 214.4,332 200,345.8 199,345.9 183,340.7 167,337.3 166,339.2 163,347.9 161,348 159.9,347 159.3,342 158.2,341 158,337.2 133,337.2 133,262.7 148,262.7 148.2,256 147.2,255 147.3,248 146.3,247 146.4,240 145.4,239 145.5,232 144.5,231 144.6,224 143.6,223 143.7,216 142.7,215 142.7,209 141.7,208 141.7,201 140.7,200 140.7,193 139.7,192 139.8,185 138.8,184 138.8,177 137.8,176 137.8,169 136.8,168 136.8,161 135.8,160 135.8,153 134.8,152 134.8,145 133.8,144 133.8,137 133,136.2 133.2,116Z"/>
<path fill="#9fe26d" d="M214,62.9 266,62.6 310,62.9 312.8,63 314.2,65 311.1,67.5 306,67.7 222,67.7 214.2,67.5 198.3,65.5 197.4,65 214,62.9ZM133.6,117 134.2,118 137,127 141.2,145 145.2,175 150.1,205 157.2,235 163,254.7 166,263.3 167,265.1 193,290 203,298.8 214.7,311 227,322 226.5,323 220.7,326 212.4,332 200,344.1 199,344.2 192,341.7 184,339.4 167,336.1 166,338.1 163,347.2 161,347.3 160,347 159.4,342 158.3,341 158,336 133,336 133,264.7 149,264.7 149,264 148,263 148.2,256 147.2,255 147.3,248 146.3,247 146.5,240 145.5,239 145.5,232 144.6,231 144.6,224 143.6,223 143.7,216 142.7,215 142.7,209 141.7,208 141.7,201 140.7,200 140.8,193 139.8,192 139.8,185 138.8,184 138.8,177 137.8,176 137.8,169 136.8,168 136.8,161 135.8,160 135.8,153 134.8,152 134.8,145 133.8,144 133.8,137 133,136.2 133,116 133.6,117Z"/>
<path fill="#ace668" d="M214,63 266,62.7 310,62.9 312.1,63 313.6,65 310.4,67.5 306,67.7 222,67.7 214.8,67.5 198.9,65.5 198,65 214,63ZM133.4,117 134.1,118 136.8,127 140.9,145 144.9,175 148.4,197 149.8,205 153.3,221 157.8,239 162.7,256 166,265.3 167,267 185,284 190,289.2 200.1,298 211.7,310 224.9,322 224.4,323 220,325 211,331.4 200,342.1 199,342.3 190,339.4 180,337 174.4,336 167,335.5 166,336.9 163,346.2 160,346.6 159.5,342 158.4,341 158,335.5 133,335.5 133,266.6 149,266.6 149.1,264 148.1,263 148.2,256 147.3,255 147.4,248 146.4,247 146.5,240 145.5,239 145.6,232 144.6,231 144.6,224 143.7,223 143.7,216 142.7,215 142.7,209 141.7,208 141.8,201 140.8,200 140.8,193 139.8,192 139.8,185 138.8,184 138.8,177 137.8,176 137.8,169 136.8,168 136.8,161 135.8,160 135.8,153 134.8,152 134.8,145 133.8,144 133.8,137 133,136.2 133,116.4 133.4,117Z"/>
<path fill="#b9ea63" d="M214,63 266,62.7 310,63 311.4,63 313,65 309.8,67.5 304,67.7 222,67.7 215.4,67.5 199.6,65.5 198.6,65 214,63ZM133.1,117 134,118 136.6,127 140.6,145 144.6,175 148.5,200 153,222 156.4,236 161.1,253 166,267.3 167,268.9 183,284 189,290.4 200,299.9 210.8,311 222.8,322 222.3,323 217.7,325 210.7,330 200,340.1 199,340.3 191.2,338 182.1,336 167,335 165.9,336 163,345.2 162,345.9 160,345.9 159.5,342 158.5,341 158,335 133,335 133,268.6 149,268.6 149.1,264 148.2,263 148.3,256 147.3,255 147.4,248 146.4,247 146.5,240 145.5,239 145.6,232 144.6,231 144.7,224 143.7,223 143.7,216 142.7,215 142.8,209 141.8,208 141.8,201 140.8,200 140.8,193 139.8,192 139.8,185 138.8,184 138.8,177 137.8,176 137.8,169 136.8,168 136.8,161 135.8,160 135.8,153 134.8,152 134.8,145 133.8,144 133.9,137 133,136.1 133.1,117Z"/>
<path fill="#c7eb5c" d="M216,63 266,62.7 310,63 310.7,63 312.4,65 309.2,67.5 304,67.7 222,67.7 216,67.5 200.5,65.5 199.2,65 216,63ZM133.7,118 136.4,127 140.2,145 144.2,175 148,199.2 152.3,221 155.8,236 160.4,253 165.5,268 167,270.9 180.9,284 188,291.6 200,301.9 209.9,312 220.8,322 220.1,323 215.3,325 210,328.9 206.3,332 200,338.1 199,338.3 188,335.8 167,334.5 165.6,336 163,344.1 162,345.2 160,345.2 159.6,342 158.5,341 158.1,335 157,334.5 133,334.5 133,270.5 149,270.5 149.2,264 148.2,263 148.3,256 147.4,255 147.5,248 146.5,247 146.6,240 145.6,239 145.6,232 144.6,231 144.7,224 143.7,223 143.7,216 142.7,215 142.8,209 141.8,208 141.8,201 140.8,200 140.8,193 139.8,192 139.8,185 138.8,184 138.8,177 137.8,176 137.8,169 136.9,168 136.9,161 135.9,160 135.9,153 134.9,152 134.9,145 133.9,144 133.9,137 133,136.1 133,117.2 133.7,118Z"/>
<path fill="#d5e954" d="M216,63 266,62.7 308,63 310,63 311.8,65 308.6,67.5 304,67.7 222,67.6 216.7,67.5 201.5,65.5 199.9,65 216,63ZM133.3,118 134,119.1 136.3,127 139.9,145 143.9,175 147.8,200 152,221.7 155.3,236 160,253.9 165,268.9 167,272.8 178.9,284 186.1,292 193,298.3 200,303.9 209,313 218.7,322 218,323 213,325 210.3,327 205,331.3 200,336.1 199,336.3 194,335.4 187,334.7 167,334 165.3,336 163,343 162,344.5 160,344.5 159.7,342 158.6,341 158.1,335 157,334 133,334 133,272.4 150,272.4 150,272 149,271 149.2,264 148.3,263 148.4,256 147.4,255 147.5,248 146.5,247 146.6,240 145.6,239 145.7,232 144.7,231 144.7,224 143.7,223 143.8,216 142.8,215 142.8,209 141.8,208 141.8,201 140.8,200 140.8,193 139.8,192 139.8,185 138.8,184 138.9,177 137.9,176 137.9,169 136.9,168 136.9,161 135.9,160 135.9,153 134.9,152 134.9,145 133.9,144 133.9,137 133,136.1 133,117.6 133.3,118Z"/>
<path fill="#e0e34b" d="M216,63 266,62.7 308,63 309.3,63 311.3,65 308,67.5 304,67.6 222,67.6 217.3,67.5 200.9,65 216,63ZM133.4,119 134,119.6 136.1,127 139.6,145 147.4,200 151.6,222 154.7,236 159.3,254 164.2,269 167,274.8 176.8,284 184,292.2 191.2,299 200,305.9 216.6,322 215.9,323 210.7,325 205,329.5 200,334.1 199,334.4 188,333.8 167,333.5 166,334.3 165,336 163,342 162,343.9 160,343.9 159.8,342 158.7,341 158.2,335 157.1,334 157,333.5 133,333.5 133,274.4 150,274.4 150.1,272 149.1,271 149.3,264 148.3,263 148.4,256 147.4,255 147.5,248 146.5,247 146.6,240 145.6,239 145.7,232 144.7,231 144.7,224 143.8,223 143.8,216 142.8,215 142.8,209 141.8,208 141.8,201 140.8,200 140.8,193 139.8,192 139.9,185 138.9,184 138.9,177 137.9,176 137.9,169 136.9,168 136.9,161 135.9,160 135.9,153 134.9,152 134.9,145 133.9,144 133.9,137 133,136.1 133,118 133.4,119Z"/>
<path fill="#e8da40" d="M218,63 266,62.7 308.6,63 310.7,65 307.4,67.5 304,67.6 222,67.6 217.9,67.5 201.9,65 218,63ZM133.6,120 134,120.2 135.9,127 139.2,145 147,200 151.1,222 154.2,236 158.6,254 161.2,263 163.7,270 167,276.7 174.8,284 183,293.6 191,301 200,307.9 214.6,322 213.8,323 208.4,325 200,332.1 199,332.5 167,333 166,333.7 164.6,336 162,343.2 160,343.2 159.9,342 158.8,341 158.2,335 157.1,334 157,333 133,333 133,276.3 150,276.3 150.2,272 149.2,271 149.3,264 148.4,263 148.5,256 147.5,255 147.6,248 146.6,247 146.7,240 145.7,239 145.7,232 144.7,231 144.8,224 143.8,223 143.8,216 142.8,215 142.8,209 141.8,208 141.9,201 140.9,200 140.9,193 139.9,192 139.9,185 138.9,184 138.9,177 137.9,176 137.9,169 136.9,168 136.9,161 135.9,160 135.9,153 134.9,152 134.9,145 133.9,144 133.9,137 133,136.1 133,119.3 133.6,120Z"/>
<path fill="#f0d135" d="M218,63 266,62.7 307.9,63 310.1,65 306.8,67.5 304,67.6 222,67.6 218.5,67.5 202.9,65 218,63ZM134,120.8 135.7,127 138.9,145 146.6,200 150.5,221 153.6,236 158,254.3 160.7,264 163,270.5 165.4,276 167,278.6 172.7,284 181,293.9 189.5,302 200,309.9 212.5,322 211.6,323 206,325 200,330.2 199,330.6 188,331.9 167,332.5 166,333.2 164.3,336 162,342.5 160,342.5 159.9,342 158.8,341 158.3,335 157.2,334 157,332.5 133,332.5 133,278.2 150,278.2 150.2,272 149.2,271 149.4,264 148.4,263 148.5,256 147.5,255 147.6,248 146.6,247 146.7,240 145.7,239 145.7,232 144.8,231 144.8,224 143.8,223 143.8,216 142.8,215 142.9,209 141.9,208 141.9,201 140.9,200 140.9,193 139.9,192 139.9,185 138.9,184 138.9,177 137.9,176 137.9,169 136.9,168 136.9,161 135.9,160 135.9,153 134.9,152 134.9,145 133.9,144 133.9,137 133,136.1 133,120.6 134,120.8Z"/>
<path fill="#f6c72c" d="M218,63 266,62.7 307.2,63 309.5,65 306.2,67.5 304,67.6 224,67.6 219.1,67.5 204,65 218,63ZM134,121.9 135.5,127 138.5,145 146.2,200 150.2,222 157.5,255 162.3,271 164.4,276 166.6,280 170.7,284 179,294.3 189,303.8 200,311.9 210.5,322 209.5,323 203.7,325 199,328.7 196,329.5 186,331.1 167,332 165.7,333 164,336 162,341.8 160,341.8 158.9,341 158.4,335 157.3,334 157,332 133,332 133,280.1 151,280 150.1,279 150.3,272 149.3,271 149.5,264 148.5,263 148.6,256 147.6,255 147.6,248 146.7,247 146.7,240 145.7,239 145.8,232 144.8,231 144.8,224 143.8,223 143.9,216 142.9,215 142.9,209 141.9,208 141.9,201 140.9,200 140.9,193 139.9,192 139.9,185 138.9,184 138.9,177 137.9,176 137.9,169 136.9,168 136.9,161 135.9,160 135.9,153 134.9,152 134.9,145 133.9,144 133.9,137 133,136.1 133,121.9 134,121.9Z"/>
<path fill="#fabd24" d="M220,63 306.5,63 308.9,65 305.6,67.5 302,67.6 222,67.6 219.7,67.5 205,65 220,63ZM134,123.1 135.3,127 138.2,145 145.9,200 149.9,223 157,255.9 159.4,265 161.7,272 166,281.1 178,295.8 188,305.3 200,313.9 208.4,322 207.4,323 201.4,325 199,326.8 193,328.7 181,330.6 167,331.5 166,332.1 165,333.4 163.7,336 162,340.9 161,341.1 159,341 158.4,335 157.3,334 157,331.5 133,331.5 133,282.1 151,282.1 151.1,280 150.1,279 150.4,272 149.4,271 149.5,264 148.5,263 148.6,256 147.6,255 147.7,248 146.7,247 146.8,240 145.8,239 145.8,232 144.8,231 144.8,224 143.8,223 143.9,216 142.9,215 142.9,209 141.9,208 141.9,201 140.9,200 140.9,193 139.9,192 139.9,185 138.9,184 138.9,177 137.9,176 137.9,169 136.9,168 136.9,161 135.9,160 135.9,153 134.9,152 134.9,145 133.9,144 134,137 133,136 133,123.1 134,123.1Z"/>
<path fill="#fcb61f" d="M220,63 305.8,63 308.3,65 305,67.5 302,67.6 224,67.6 220.4,67.5 206,65 220,63ZM134,124.4 135.1,127 145.5,200 149.6,224 156.3,256 158.6,265 161.2,273 163.7,279 166,283.1 171,290.3 177,297.4 186,305.9 192,310.6 200,315.9 206.3,322 205.2,323 194,326.9 189,328.2 180,329.7 167,331 166,331.5 164.8,333 162,339.9 161,340.5 159,340.5 158.5,335 157.4,334 157,331 133,331 133,284 151,284 151.2,280 150.2,279 150.4,272 149.4,271 149.6,264 148.6,263 148.7,256 147.7,255 147.7,248 146.7,247 146.8,240 145.8,239 145.8,232 144.8,231 144.9,224 143.9,223 143.9,216 142.9,215 142.9,209 141.9,208 141.9,201 140.9,200 140.9,193 139.9,192 139.9,185 138.9,184 138.9,177 137.9,176 138,169 137,168 137,161 136,160 136,153 135,152 135,145 134,144 134,137 133,136 133,124.4 134,124.4Z"/>
<path fill="#fcb11e" d="M220,63 305.1,63 307.7,65 304.3,67.5 302,67.6 224,67.6 221,67.5 207.1,65 220,63ZM134,125.7 135,127.4 145.1,200 149.3,225 155.8,257 158.1,266 160.6,274 162.6,279 167,287.8 175,298 179.9,303 185,307.5 192,312.7 200,317.9 204.3,322 203.1,323 186,327.7 178,329.1 167,330.3 164.4,333 162,339 161,339.8 159,339.8 158.6,335 157.5,334 157,330.3 133,330.3 133,287.2 152,287 151,286 151.3,280 150.3,279 150.5,272 149.5,271 149.6,264 148.6,263 148.7,256 147.7,255 147.8,248 146.8,247 146.8,240 145.8,239 145.9,232 144.9,231 144.9,224 143.9,223 143.9,216 142.9,215 142.9,209 141.9,208 141.9,201 140.9,200 141,193 140,192 140,185 139,184 139,177 138,176 138,169 137,168 137,161 136,160 136,153 135,152 135,145 134,144 134,137 133,136 133,125.7 134,125.7Z"/>
<path fill="#fcac1c" d="M222,63 304.4,63 307.1,65 303.7,67.5 302,67.6 224,67.6 221.6,67.5 208.1,65 222,63ZM134,127 134,128 135,128.9 135.2,135 136,136.3 136.4,142 137,143.6 137.4,149 138,150.9 144.9,201 149,226 155.3,258 157.5,267 160,275.2 167,291 173.4,299 179,304.7 185,309.9 192,314.9 199,319.1 202.2,322 201,323 191.1,325 183,327.2 167,329.5 164.5,332 162,338.1 161,339.1 159,339.1 158.6,335 157.6,334 157,329.6 133,329.6 133,290.4 152,290.4 152.1,287 151.2,286 151.4,280 150.4,279 150.6,272 149.6,271 149.7,264 148.7,263 148.8,256 147.8,255 147.8,248 146.8,247 146.9,240 145.9,239 145.9,232 144.9,231 144.9,224 143.9,223 143.9,216 142.9,215 143,209 142,208 142,201 141,200 141,193 140,192 140,185 139,184 139,177 138,176 138,169 137,168 137,161 136,160 136,153 135,152 135,145 134,144 134,137 133,136 133,127 134,127Z"/>
<path fill="#fca71a" d="M222,63 303.7,63 306.5,65 303.1,67.5 302,67.5 224,67.5 222.2,67.5 209.1,65 222,63ZM137,163.5 139,163.5 139.2,167 140,168.3 140.3,174 141,175.5 141.4,181 142,182.9 143.6,196 150.5,237 156,264.3 158.3,273 160.8,280 166.9,294 173.5,302 179,307.3 185,312.3 191,316.5 200.2,322 198.2,323 191.8,324 180,326.9 167,328.8 166,329.4 164,332 162,337.1 161,338.4 159,338.4 158.7,335 157.6,334 157,328.9 133,328.9 133,293.6 152,293.6 152.2,287 151.3,286 151.5,280 150.5,279 150.6,272 149.6,271 149.7,264 148.7,263 148.8,256 147.8,255 147.8,248 146.9,247 146.9,240 145.9,239 145.9,232 144.9,231 144.9,224 143.9,223 144,216 143,215 143,209 142,208 142,201 141,200 141,193 140,192 140,185 139,184 139,177 138,176 138,169 137,168 137,163.5Z"/>
<path fill="#fca219" d="M222,63 303,63 305.9,65 302.5,67.5 302,67.5 224,67.5 210.1,65 222,63ZM142,200 144,200.5 144.3,205 145,206.8 150,237.6 156,267.7 159,278.3 164.7,293 166,295.8 168,298.6 177,308.2 186,315.4 196.8,322 194.4,323 188.2,324 176,326.7 167,328.1 165.6,329 163.5,332 162,336.2 161,337.7 159,337.7 158.8,335 157.7,334 157,328.2 133,328.2 133,296.8 153,296.8 153.1,295 152.1,294 152.4,287 151.4,286 151.6,280 150.6,279 150.7,272 149.7,271 149.8,264 148.8,263 148.8,256 147.9,255 147.9,248 146.9,247 146.9,240 145.9,239 145.9,232 144.9,231 145,224 144,223 144,216 143,215 143,209 142,208 142,200Z"/>
<path fill="#fb9e16" d="M224,63 302.3,63 305.3,65 301.9,67.5 223.5,67.5 211.2,65 224,63ZM144,216.7 146,216.7 146.3,221 147,222.6 152.2,253 156.4,273 161.6,289 164.4,296 167.4,301 176,310 184,316.4 192.9,322 190.6,323 167,327.4 165.9,328 164,330.2 161,337 159,337 158.8,335 157.8,334 157,327.5 133,327.5 133,300 153,300 153.3,295 152.3,294 152.5,287 151.5,286 151.7,280 150.7,279 150.8,272 149.8,271 149.8,264 148.9,263 148.9,256 147.9,255 147.9,248 146.9,247 147,240 146,239 146,232 145,231 145,224 144,223 144,216.7Z"/>
<path fill="#fa9913" d="M224,63 301.6,63 304.8,65 301.3,67.5 224.1,67.5 212.2,65 224,63ZM146,233.3 148,233.3 148.4,237 149,238.4 152.8,260 155.7,274 160.4,290 163.6,298 167,303.8 173,310 181,316.7 189.1,322 186.8,323 166,327.1 163.4,330 161,336.4 159,336.4 158.9,335 157.8,334 157,326.9 133,326.8 133,303.2 154,303.2 153.1,302 153.4,295 152.4,294 152.6,287 151.6,286 151.7,280 150.8,279 150.8,272 149.8,271 149.9,264 148.9,263 148.9,256 147.9,255 148,248 147,247 147,240 146,239 146,233.3Z"/>
<path fill="#f89410" d="M224,63 300.9,63 304.2,65 300.7,67.5 224.7,67.5 213.2,65 224,63ZM148,250 150,250 156,279.3 159.6,292 162.6,300 167,306.9 171,311 178,317 185.2,322 183,323 166,326.4 164.1,328 163,329.5 161,335.7 159,335.7 158.9,335 157.9,334 157.2,327 156,326 133,326 133,306.5 154,306.5 154.2,303 153.3,302 153.6,295 152.6,294 152.7,287 151.7,286 151.8,280 150.8,279 150.9,272 149.9,271 150,264 149,263 149,256 148,255 148,250Z"/>
<path fill="#f68f0d" d="M226,63 300.2,63 303.6,65 300.1,67.5 225.3,67.5 214.2,65 226,63ZM150,266.7 152,266.7 158,292 160.2,299 161.7,302 165.4,308 167.9,311 174.5,317 181.4,322 179.1,323 167,325.3 165.4,326 164,327 162.5,329 161.4,332 161,335 159,335 158,334 157.4,327 156.2,326 156,325.3 133,325.3 133,309.7 154,309.7 154.4,303 153.5,302 153.7,295 152.7,294 152.9,287 151.9,286 151.9,280 150.9,279 151,272 150,271 150,266.7Z"/>
<path fill="#f58a09" d="M226,63 299.4,63 303,65 299.2,67.5 225.9,67.5 215.3,65 226,63ZM152,283.3 154,283.3 155,285.5 158.6,300 163.8,309 168,314.3 177.5,322 175.3,323 167,324.5 165,325.4 162.2,328 161,331.6 160,332.8 158,332.8 157.6,327 156.4,326 156,324.6 133,324.6 133,312.9 155,312.9 155.2,311 154.2,310 154.7,303 153.7,302 153.9,295 152.9,294 153,287 152,286 152,283.3Z"/>
<path fill="#ea7c08" d="M226,63 298.4,63 302.4,65 298.3,67.5 226.5,67.5 216.3,65 226,63ZM154,300 156,300 157,300.7 161.5,309 165.7,315 168.7,318 173.7,322 171.5,323 166.4,324 164,325.1 161.9,327 160,330.7 158,330.7 157.7,327 156.6,326 156,323.9 133,323.9 133,316.1 155,316.1 155.4,311 154.5,310 154.9,303 153.9,302 154,300Z"/>
<path fill="#e77507" d="M228,63 296.6,63 300,63.9 301.8,65 299.6,66.5 296.6,67.5 227.2,67.5 217.3,65 228,63ZM155,305.5 157,305.5 164,316.2 167,319.7 169.8,322 163,324.6 161.5,326 160,328.5 158,328.5 157.9,327 156.8,326 156,323.2 133,323.2 133,319.3 156,319.3 155.2,318 155.7,311 154.8,310 155,305.5Z"/>
<path fill="#e46d06" d="M228,63 294.4,63 298,63.5 301.2,65 298,66.8 294.4,67.5 227.8,67.5 218.3,65 228,63ZM156,311 158,311 162,317.2 166.1,322 162,324 160,326.3 157,326 156.1,322 156.4,319 155.5,318 156,311Z"/>
<path fill="#e16505" d="M228,63 292.2,63 298,63.8 300.6,65 298,66.4 292.2,67.5 228.4,67.5 219.4,65 228,63ZM156,316.5 158,316.5 159,316.9 162.8,322 160,323.9 157,324.2 156.5,322 156.8,319 155.9,318 156,316.5Z"/>
<path fill="#de5e04" d="M230,63 290,63 298,64.2 300,65 298,66 290,67.5 229,67.5 220.4,65 228.6,63 230,63Z"/>
<path fill="#df5605" d="M230,63 287.8,63 296,64.1 299.3,65 296,66.1 287.8,67.5 229.6,67.5 221.4,65 230,63Z"/>
<path fill="#e44d06" d="M230,63 285.6,63 298.5,65 294,66.2 285.6,67.5 230.2,67.5 222.4,65 230,63Z"/>
<path fill="#e94407" d="M232,63 283.4,63 297.4,65 290.5,66.5 283.4,67.5 230.9,67.5 223.5,65 230.7,63 232,63Z"/>
<path fill="#f03a0a" d="M232,63 281.2,63 296,65 290,66.3 281.2,67.5 231.5,67.5 224.5,65 232,63Z"/>
<path fill="#f92d0e" d="M234,63 279,63 294.5,65 288,66.3 279,67.5 232.2,67.5 225.5,65 232,63 234,63Z"/>
<path fill="#fb1510" d="M234,63 276.8,63 293.1,65 286,66.4 276.8,67.5 233.7,67.5 226.6,65 234,63Z"/>
<path fill="#f81010" d="M240,63 274.6,63 291.7,65 284,66.4 274.6,67.5 239.3,67.5 234,67.2 227.6,65 234,63.3 240,63Z"/>
<path fill="#f50b10" d="M246,63 272.4,63 290.2,65 282,66.4 272.4,67.5 244,67.4 234,66.8 228.6,65 234,63.6 246,63Z"/>
<path fill="#f10912" d="M254,63 270.2,63 288.8,65 280,66.4 270.2,67.5 252.6,67.5 242,67 234,66.4 229.6,65 234,63.9 254,63Z"/>
<path fill="#ec0a17" d="M260,63 270,63.1 287.3,65 278,66.5 268,67.5 259.2,67.5 242,66.7 234,66 230.7,65 234,64.2 238,63.9 260,63Z"/>
<path fill="#e70b1c" d="M250,63.5 266,63 285.9,65 276,66.5 266,67.5 254,67.1 238,66.1 231.7,65 238,64.2 250,63.5Z"/>
<path fill="#e20c20" d="M254,63.5 266,63.2 284.5,65 266,67.3 254,66.9 240.8,66 233.2,65 254,63.5Z"/>
<path fill="#dd0d25" d="M260,63.5 266,63.3 283,65 266,67.1 248,66.3 235.3,65 260,63.5Z"/>
<path fill="#d70e2a" d="M264,63.5 281.6,65 266,66.9 250,66.2 237.8,65 264,63.5Z"/>
<path fill="#d2102e" d="M256,63.9 266,63.6 280.2,65 266,66.8 262,66.6 240.3,65 256,63.9Z"/>
<path fill="#da2642" d="M260,63.9 266,63.7 278.7,65 266,66.6 258,66.2 242.9,65 260,63.9Z"/>
<path fill="#de3347" d="M264,63.9 277.3,65 266,66.4 245.4,65 264,63.9Z"/>
<path fill="#e2404c" d="M256,64.5 266,64 275.8,65 266,66.2 248,65 256,64.5Z"/>
<path fill="#e64d51" d="M260,64.4 266,64.2 274.4,65 266,66 264,66 250.5,65 260,64.4Z"/>
<path fill="#ea5a56" d="M262,64.5 266,64.3 273,65 266,65.9 264,65.8 253.1,65 262,64.5Z"/>
<path fill="#ef6b5d" d="M266,64.4 271.5,65 266,65.7 255.6,65 266,64.4Z"/>
<path fill="#f48068" d="M260,64.9 266,64.6 270.1,65 266,65.5 258.1,65 260,64.9Z"/>
<path fill="#f99573" d="M262,64.9 268.7,65 266,65.3 262,64.9Z"/>
<path fill="#fcaa7e" d="M264,65 267.2,65 264,65Z"/>
</g>
<g clip-path="url(#ax)"><g clip-path="url(#sea)">
<mask id="lm" maskUnits="userSpaceOnUse" x="130" y="50" width="800" height="570"><rect x="130" y="50" width="800" height="570" fill="#fff"/><rect transform="translate(366.0,129.5) rotate(-3)" x="-9.1" y="-4.5" width="18.3" height="9" fill="#000"/><rect transform="translate(370.0,136.5) rotate(-3)" x="-6.3" y="-4.5" width="12.7" height="9" fill="#000"/><rect transform="translate(372.0,148.0) rotate(-3)" x="-6.3" y="-4.5" width="12.7" height="9" fill="#000"/><rect transform="translate(397.0,160.0) rotate(-3)" x="-6.3" y="-4.5" width="12.7" height="9" fill="#000"/><rect transform="translate(391.0,190.0) rotate(-12)" x="-6.3" y="-4.5" width="12.7" height="9" fill="#000"/><rect transform="translate(272.5,86.0) rotate(-8)" x="-9.1" y="-4.5" width="18.3" height="9" fill="#000"/><rect transform="translate(240.0,89.0) rotate(-8)" x="-6.3" y="-4.5" width="12.7" height="9" fill="#000"/><rect transform="translate(211.5,91.5) rotate(-15)" x="-6.3" y="-4.5" width="12.7" height="9" fill="#000"/><rect transform="translate(170.0,78.0) rotate(0)" x="-6.3" y="-4.5" width="12.7" height="9" fill="#000"/><rect transform="translate(184.0,85.0) rotate(35)" x="-6.3" y="-4.5" width="12.7" height="9" fill="#000"/><rect transform="translate(350.0,72.5) rotate(-8)" x="-9.1" y="-4.5" width="18.3" height="9" fill="#000"/><rect transform="translate(310.7,59.7) rotate(-5)" x="-9.1" y="-4.5" width="18.3" height="9" fill="#000"/><rect transform="translate(311.6,68.5) rotate(-5)" x="-9.1" y="-4.5" width="18.3" height="9" fill="#000"/><rect transform="translate(430.0,60.8) rotate(0)" x="-9.1" y="-4.5" width="18.3" height="9" fill="#000"/><rect transform="translate(470.0,66.5) rotate(0)" x="-9.1" y="-4.5" width="18.3" height="9" fill="#000"/><rect transform="translate(606.0,67.8) rotate(-8)" x="-9.1" y="-4.5" width="18.3" height="9" fill="#000"/><rect transform="translate(726.5,59.8) rotate(0)" x="-9.1" y="-4.5" width="18.3" height="9" fill="#000"/><rect transform="translate(857.0,58.5) rotate(0)" x="-9.1" y="-4.5" width="18.3" height="9" fill="#000"/><rect transform="translate(622.0,103.0) rotate(-12)" x="-9.1" y="-4.5" width="18.3" height="9" fill="#000"/><rect transform="translate(628.0,114.5) rotate(-12)" x="-6.3" y="-4.5" width="12.7" height="9" fill="#000"/><rect transform="translate(632.0,127.0) rotate(-12)" x="-6.3" y="-4.5" width="12.7" height="9" fill="#000"/><rect transform="translate(650.0,137.0) rotate(-20)" x="-6.3" y="-4.5" width="12.7" height="9" fill="#000"/><rect transform="translate(642.5,161.5) rotate(-8)" x="-6.3" y="-4.5" width="12.7" height="9" fill="#000"/><rect transform="translate(675.0,173.5) rotate(-35)" x="-6.3" y="-4.5" width="12.7" height="9" fill="#000"/><rect transform="translate(664.0,211.0) rotate(-25)" x="-3.5" y="-4.5" width="7.1" height="9" fill="#000"/><rect transform="translate(869.5,69.0) rotate(-5)" x="-9.1" y="-4.5" width="18.3" height="9" fill="#000"/><rect transform="translate(874.0,73.0) rotate(-5)" x="-6.3" y="-4.5" width="12.7" height="9" fill="#000"/><rect transform="translate(877.0,77.5) rotate(-5)" x="-6.3" y="-4.5" width="12.7" height="9" fill="#000"/><rect transform="translate(895.8,85.0) rotate(-8)" x="-6.3" y="-4.5" width="12.7" height="9" fill="#000"/><rect transform="translate(884.5,100.0) rotate(-8)" x="-6.3" y="-4.5" width="12.7" height="9" fill="#000"/><rect transform="translate(914.6,103.0) rotate(-35)" x="-6.3" y="-4.5" width="12.7" height="9" fill="#000"/><rect transform="translate(889.4,124.5) rotate(-12)" x="-3.5" y="-4.5" width="7.1" height="9" fill="#000"/><rect transform="translate(353.0,232.0) rotate(35)" x="-6.3" y="-4.5" width="12.7" height="9" fill="#000"/><rect transform="translate(331.5,240.5) rotate(38)" x="-6.3" y="-4.5" width="12.7" height="9" fill="#000"/><rect transform="translate(353.0,275.0) rotate(40)" x="-6.3" y="-4.5" width="12.7" height="9" fill="#000"/><rect transform="translate(343.4,285.0) rotate(48)" x="-9.1" y="-4.5" width="18.3" height="9" fill="#000"/><rect transform="translate(301.2,305.5) rotate(52)" x="-9.1" y="-4.5" width="18.3" height="9" fill="#000"/><rect transform="translate(279.5,317.5) rotate(62)" x="-9.1" y="-4.5" width="18.3" height="9" fill="#000"/><rect transform="translate(257.0,328.0) rotate(85)" x="-9.1" y="-4.5" width="18.3" height="9" fill="#000"/><rect transform="translate(241.0,334.0) rotate(-60)" x="-9.1" y="-4.5" width="18.3" height="9" fill="#000"/><rect transform="translate(217.5,340.0) rotate(-38)" x="-9.1" y="-4.5" width="18.3" height="9" fill="#000"/><rect transform="translate(505.0,273.5) rotate(58)" x="-6.3" y="-4.5" width="12.7" height="9" fill="#000"/><rect transform="translate(495.5,322.0) rotate(-85)" x="-6.3" y="-4.5" width="12.7" height="9" fill="#000"/><rect transform="translate(543.8,377.5) rotate(60)" x="-3.5" y="-4.5" width="7.1" height="9" fill="#000"/><rect transform="translate(395.0,417.0) rotate(-50)" x="-6.3" y="-4.5" width="12.7" height="9" fill="#000"/><rect transform="translate(365.5,383.5) rotate(-50)" x="-6.3" y="-4.5" width="12.7" height="9" fill="#000"/><rect transform="translate(329.0,399.0) rotate(-38)" x="-6.3" y="-4.5" width="12.7" height="9" fill="#000"/><rect transform="translate(226.5,429.5) rotate(-32)" x="-9.1" y="-4.5" width="18.3" height="9" fill="#000"/><rect transform="translate(251.5,424.0) rotate(-22)" x="-6.3" y="-4.5" width="12.7" height="9" fill="#000"/><rect transform="translate(320.0,465.0) rotate(-62)" x="-6.3" y="-4.5" width="12.7" height="9" fill="#000"/><rect transform="translate(334.0,476.0) rotate(-50)" x="-6.3" y="-4.5" width="12.7" height="9" fill="#000"/><rect transform="translate(172.5,164.5) rotate(25)" x="-6.3" y="-4.5" width="12.7" height="9" fill="#000"/><rect transform="translate(188.5,451.0) rotate(-85)" x="-6.3" y="-4.5" width="12.7" height="9" fill="#000"/><rect transform="translate(153.5,295.0) rotate(-80)" x="-9.1" y="-4.5" width="18.3" height="9" fill="#000"/><rect transform="translate(150.0,250.0) rotate(-82)" x="-9.1" y="-4.5" width="18.3" height="9" fill="#000"/><rect transform="translate(157.5,150.0) rotate(-80)" x="-9.1" y="-4.5" width="18.3" height="9" fill="#000"/><rect transform="translate(138.0,141.0) rotate(-80)" x="-9.1" y="-4.5" width="18.3" height="9" fill="#000"/><rect transform="translate(139.0,160.0) rotate(-82)" x="-9.1" y="-4.5" width="18.3" height="9" fill="#000"/><rect transform="translate(143.0,200.0) rotate(-82)" x="-9.1" y="-4.5" width="18.3" height="9" fill="#000"/><rect transform="translate(168.0,375.0) rotate(-80)" x="-9.1" y="-4.5" width="18.3" height="9" fill="#000"/><rect transform="translate(173.0,398.0) rotate(-78)" x="-9.1" y="-4.5" width="18.3" height="9" fill="#000"/><rect transform="translate(192.5,69.5) rotate(0)" x="-9.1" y="-4.5" width="18.3" height="9" fill="#000"/><rect transform="translate(218.8,75.0) rotate(-8)" x="-9.1" y="-4.5" width="18.3" height="9" fill="#000"/><rect transform="translate(249.0,75.0) rotate(-85)" x="-9.1" y="-4.5" width="18.3" height="9" fill="#000"/></mask>
<path d="M928,98 925.5,98.5 916.2,101.5 903.8,106.5 901.4,108.5 897.6,115 894,119.6 862,124.4 828,125.5 804,130.4 793.3,133 786,135.6 780.2,138 772,142.3 766.3,146 762,149.4 760.2,150 747.9,153 728,156.4 719,161 711.4,166 704,172.1 700,176.1 696,180.8 694,182.4 664,202.9 662,203.9 630,209.7 620,214.1 612.8,218 606,222.4 600.2,227 592,234.6 586,239.5 578.3,245 570,250 572.1,266 573.8,284 575.6,310 576.2,322 576,323 574.2,327 568.8,334 564,341.3 558.6,353 553.7,362 542,377 530,390.2 524,393.8 518,396.3 508.9,399 498,401.2 496,402.1 486.6,408 477.8,413 456,424 448.6,428 440,433.4 432,439.3 430,439.3 422,435.2 414,432.2 406,429.9 398,428 392,430.8 385,433 376,434.9 366,436.4 364,437.5 357,445 354.2,455 351.8,462 348.5,470 344.5,478 340.1,491 339.1,500 335.8,563 332.1,618.0M182.8,618 180.3,598 178.2,575 176.4,547 174.8,514 178.5,509 181,503.1 181.9,500 182.3,492 182.6,483 180.8,444 179.3,432 178.1,418 174.8,411 168.8,400 167,398.1 166,397.6 133,397.6M928,94.5 919.8,96.5 913.4,98.5 903.9,102 894,106.5 887.9,108 875.6,110 858,111.8 828,113.6 812,116.8 796,119.2 780,124 762,127.7 756,132.2 749.1,136 741.3,139 730,141.9 728,142.7 720.8,147 713,151 704,154.9 695.8,158 689.1,165 681.6,171 672,176.8 662,181.2 655.3,183 648,184.5 629.7,187 614,191.4 596,194.9 564,195.7 552,197.5 530.2,199 527.2,203 524.3,206 521.9,208 518,210.5 514,212.4 509.6,214 504,215.6 497.1,217 494,220 492.1,224 490.9,230 490.1,238 493.6,247 497.6,260 505.3,266 510,270.4 515,276 520,283.1 524,290 527.2,297 533.7,313 536.8,322 536.6,323 530,332.3 527.3,339 524.4,345 521.6,350 518.2,355 513.3,361 508.1,366 503.1,370 498,373.4 487.3,382 476,389.7 456,401.3 451.9,403 445.6,405 438,406.8 430,408.2 418,409.1 398,409.7 381.9,416 375,420 368.3,425 366,427 365.6,428 364,429 348.9,445 344.6,456 341.3,463 337.2,470 331.7,478 326.6,491 323.4,510 321.8,517 319.7,524 317.4,530 314.9,535 312.5,539 309.4,543 304,548.3 298.6,552 266,585.8 264,585.8 234,582.7 232,584 226.1,594 219.3,603 211.5,611 202.6,618.0M199,618 194.8,602 191.3,584 188.1,563 185.4,540 183.1,514 185,508 186.4,500 185,483 184,476 183.2,466 181.8,444 180.1,432 178.7,418 175.4,411 169.4,400 167,397.4 166,397 133,397.0M928,89.8 910,92.6 894,96.5 860,97.5 846,98.7 828,99.5 814,101.3 795.6,102.5 787.7,105.5 780.9,107.5 772,109.4 761.9,111 755.4,114 747.6,117 740,119.3 729.4,122 720.4,128 714,131.4 706,134.7 695.8,138 687.4,144 678,148.9 658,156.6 650,158.6 642,159.8 620,162.2 596,163.8 588,165.6 580,166.6 562,167.9 550,169.3 532,170.1 518,173.1 508,174.2 497.3,175 490,176.1 464,177.5 452,179.3 432,180.6 418,182.4 398,183.8 384,187.7 364,191.3 348.2,197 348.3,199 358,201 366,203.4 378.8,206 388,208.8 393.4,211 404,216.4 412,221.2 419.5,227 424.6,232 431.4,240 440.5,245 447.2,250 452.3,255 456.9,261 460.5,267 464.3,275 470,280.4 474.3,285 478.4,290 482.7,296 487,303 490.6,310 495.5,321 495.9,322 495.8,323 493.2,328 490,333.1 486.3,338 482.7,342 478.3,346 474.4,349 464.4,355 457.3,365 450.1,373 441.9,380 432,386.5 426,388.7 418,390.8 408,392.9 398,394.5 366,395.7 365.7,396 364,398.4 360.6,406 354.8,415 351.9,422 348.8,428 331.9,446 315.6,468 309.2,477 302.9,487 296.3,496 293.3,499 290,501.6 286,503.9 282,505.7 274.9,508 266,510 260,507.4 254.6,504 251.2,501 247.2,496 243.5,489 234,479.4 232,479.2 228,484.6 224.2,489 222.1,493 219.8,496 215.3,500 212,504.3 208.3,508 204.5,511 200,513.8 199,512.8 197.7,510 196.2,505 195.2,500 192.3,493 187.8,475 185.8,463 183.8,444 181.6,432 180,418 176.7,411 170.6,400 167,396.2 166,395.7 133,395.7M165,81.5 159,82.4 154.8,84 160.8,85.5 167,86.7 175.5,84 169,81.8 167,81.4 165,81.5M928,79.7 894,82.4 861,82.5 849.3,84 828,85.4 814,87.2 796,88.6 779.5,91.5 762,93.8 747.8,97.5 728.7,101 720.2,105.5 713.7,108.5 704.8,112 695.8,115 683.2,122 670,128 649.1,136 640,138.8 630,141.4 596,142.5 580,145.2 544,149.7 520,151.8 490,153.7 398,157.5 366,157 348,158.5 332,159 322,159.6 299.8,160 294,161.3 289.3,162 274,163 272,164.2 270,166.2 268.6,169 267.7,172 266.6,180 266,198 280,198.7 290,200 293.1,201 295.2,202 296.5,203 299.2,206 314,209 323.5,212 349.8,225 356.6,229 364.3,234 376.6,241 383.2,246 388.6,251 393.8,257 398,262.9 405.3,268 410.4,272 416,277 420.9,282 426,288 431.2,295 442,308.3 450.4,321 451,322 450.9,323 442,331.3 431.4,339 426,346.3 421,352 415.6,357 410,361.2 402,366 390,372.1 378,376.9 366,380.7 364,382.1 355.9,392 348,398 344.5,402 340,406 332.5,411 328.7,416 325.9,419 322,420.8 316,422.3 310,423.1 299.6,424 290.8,441 284.3,451 280.3,456 276,460.6 271.4,465 266,469.4 258.2,467 250,465.5 235.6,464 234,463.9 232,464.2 200,482.4 198.6,481 195.9,476 193.9,471 191.7,464 189.8,456 187.8,444 184.7,432 182.5,418 179.3,411 172.9,400 167,393.6 166,393.2 133,393.2M133,88 147,93 147,98 155,99.7 156,100 157,101 157,102 157.6,102.5 158,104.3 158.9,105.5 159,108.1 159.6,110.5 160,116.1 160.7,119 161,124 161.8,127 162,132 162.7,134 163,139.7 163.8,142 164,147.3 164.9,150 165,155.2 165.7,157 166,163 167,164 199,163 200,162.7 201.7,161 200,159.3 191,156.3 186,153.7 181.7,150 178.2,145 176.4,141 175,136.9 173.4,130 172,121 170.4,116 169.4,110 167,102.8 166,101 167,100.3 168.6,98 172.7,94.5 175.7,92.5 179.5,90.5 187.6,88 199.8,85 211.7,80 211.1,78 206,76 202,75.1 199,73 151,74.4 133,75.2M133,164 136,164 136,161 135,160 135,153 134,152 134,145 133,144 133,137.0M928,72.3 894,74.3 860,75.4 828,78.6 794,80.7 762,84.2 730,89.3 728,89.7 696,99.9 682,106.1 663.5,113 654,117.1 646,119.9 638.4,122 624.9,125 614,126.8 552,134.6 516,138.2 464,142.5 398,144.5 364,144.7 298,149.8 264,153 246,152.6 234,151.9 232,151.6 226,149.4 218,145.4 212,141 208.9,138 206.3,135 203,129.7 200,122.4 199.1,121 192.5,118 187,114 180.3,106.5 177.9,103 177.2,101 178.4,99 184.7,97 193,93.3 203,90.1 213.4,89 232.2,88.5 234,87.9 236.1,87 237.8,85 240.1,82 240.3,80 238.5,79 235.6,78 232.2,76 218,75.3 208,74.1 205,73.5 199,71.5 184,70.9 174,69.8 170.7,69 166,66.5 133,66.5M133,101.2 141,102.7 150,106 161.8,145 165,169 180,170.2 186,171.2 190,172.3 193,173.5 195.4,175 200,180 212,182.3 217.5,184 222,186 228,190 230,192 232.8,196 234.5,197 248,200.7 268,205.1 298.3,215 305.5,219 313.1,224 319.7,229 326.7,235 332,240.5 344.7,246 350,249 354.5,252 360,256.5 366,262.4 375.5,270 381.6,276 387.6,283 393.3,291 398,299.1 405,305 410,310 415.1,316 419.4,322 419.2,323 412,330.2 405.5,336 398,342.1 394,346.2 389.4,350 385.1,353 380,356 373.7,359 366,362 364.8,363 364,363.8 352.1,381 344,392 342.5,393 336.6,396 331.7,398 308.4,414 303.1,417 298.9,419 290,421.1 281.4,424 278,426.7 274.2,429 266,432.7 260.3,439 257.8,441 254,443.4 250,445.3 245.3,447 232,450.4 216,460 200,468.6 199,467.5 198,465.4 195,457 191.8,444 189.6,438 187.8,432 185,418 181.8,411 175.3,400 167,391.1 166,390.7 133,390.7M133,169 137,169 136,168 136,161 135,160 135,153 134,152 134,145 133,144 133,137.0M928,66.8 884,69.4 860,70.4 832,72.3 796,73.7 761.5,75.5 747.3,78.5 728,81.4 696,88.4 678,95.5 630,112.8 612,115.7 564,121.8 548,124.3 532,126.3 498,128.6 431.5,131 398,133 364,135.3 266,143.8 250,142 234,139.7 232,139.2 228,137.1 223.1,134 219.5,131 214.3,126 210.4,121 200,111.8 195,108.5 191.9,106 188.8,103 187.9,101 189,99 199.6,97 207.3,93.5 217.1,90.5 245,88.5 249.8,87 253.8,85 257.2,82 255.6,80 254.1,79 247.1,78 239,76 211,73.6 199,70.7 177,69.1 171,68 166,65.5 133,65.5M133,104.2 141.3,106 159.9,145 163,169.5 164,172 167,172.1 172,172.8 181,175 193,183.5 199.8,189 207,191 212.1,193 225.7,200 232,204.4 234,205.3 250.8,209 265.8,213 278,218.2 290,225 294.3,228 298.8,232 307.1,237 321.3,247 332,255.4 341.8,261 351.1,268 356.8,274 364,282.5 375.4,295 387.8,311 395.3,322 395.2,323 391.1,328 383,336 376,341.5 366,347.7 364,349.3 352.9,362 345.3,372 332,392 319.1,395 311,398 297.8,408 288,412.2 271.1,420 266,422.8 254,426.5 244,430.6 241.2,432 228,440.6 221.3,444 200,456.1 199,454.6 195.7,444 192,435 189.5,427 187.4,418 184.4,411 177.7,400 168.4,390 167,388.6 166,388.2 133,388.2M133,172 137,172 137,169 136,168 136.1,161 135.1,160 135.1,153 134.1,152 134.1,145 133.1,144 133,136.9M928,61 878,65.1 861.2,67 849.2,68 828,68.9 795.5,69.5 782.1,70.5 762,71.2 743.7,74 727.5,75.5 711,79 695.8,80.5 682,86 674,88.7 661.9,91 651.9,95.5 642.7,99 638,100.1 629.6,101.5 622,104.2 613.8,106.5 596.6,108.5 582,111.1 562.5,113 552.6,115 542,116.4 516.8,119 496,120.5 398,124.6 366,127.4 332,129 310,131.2 266,134.5 246,131.9 234,129.7 232,129 228,126.5 224.7,124 199.6,103 198.6,101 199.7,99 210.1,97 220,93.5 232,90.6 253.7,89 257.3,88.5 266,86.5 298,84.2 300.6,83 284,82.5 276,81.8 271.7,81 269.1,80 267.7,79 266,78.7 232.4,74.5 221.1,74 214,73.3 208,72.3 199.2,70 186,69.4 175,68.2 170.7,67 166,64.5 133,64.5M133,106.5 133.9,107 134,108 134.9,108.5 135,109.5 135.9,110 136,111 136.9,111.5 137,112.1 137.9,113 138,114 139.8,116 140,117 141.7,119 142,120 144.9,124 145,125 146.9,127 147,128 148.8,130 149,131 150.7,133 151,134 152.6,136 158.1,145 162,175 167,175.2 172,177.5 181,182.8 189.7,189 199,194.6 209,198 216,201 224.6,206 232,211.4 234,212.2 242,213.4 248,214.7 256,217.4 261.1,220 266,223.7 276,228.1 286,234.1 292,238.5 300,245.4 310,251.9 325.3,263 331.7,268 338.4,274 345.4,281 352.6,289 358.2,296 365.5,306 372.4,314 378.7,322 378.5,323 375.4,326 364,335.4 349,352 332,372.5 327.6,377 322,381.3 317.6,384 312,386.8 306.3,389 300,391 298,392.5 294,397 290.4,400 286,402.8 281.7,405 274,407.8 266,409.9 260.2,414 254,416.7 246,418.8 233.2,421 232,422 229.3,426 226,429.8 219.8,435 216.7,437 212,439.3 200,443.8 199,442.7 198.1,441 194.8,434 192.4,427 189.9,418 186.9,411 180,400 173,392.1 167,386 166,385.6 133,385.6M133,175 137,175 137.1,169 136.1,168 136.1,161 135.1,160 135.1,153 134.1,152 134.1,145 133.1,144 133,136.9M928,55.5 730,55.9 714,56.7 660.8,57.5 650,59.2 628,59.9 623,60.5 615.1,64 610.6,65.5 604,66.9 596.1,68 548,68.8 530.2,69.5 498,70 464,69.6 422,68.8 398,67.5 366,67.1 332,72 324,74.3 312,76.7 300,77.9 278,75.8 226,72.4 200,68.5 186.6,68 182,67.4 175,65.9 173.2,65 173.4,64.5 167,63.5 133,63.5M133,107.8 139.2,118 154.7,145 158.5,175 164.6,201 166,205 175.3,207 185.5,210 193,212.8 199.7,216 212,220.6 226,227.1 232.8,231 236.8,234 244.2,240 252,247.3 258.4,254 266,263.1 275.5,270 282.8,277 287.1,282 290.7,287 294.5,293 298.8,301 300,302.3 306.2,307 310.5,311 315,316 319.4,322 319.4,323 318,325 312,332.4 306.2,338 298.9,344 291.2,355 284,363.3 275.6,371 266,377.9 258,384.4 252,388.5 246,392.1 227.4,401 215,406 200,410.8 198.2,409 190.3,398 182,388.2 175,381 167,374 166,373.7 133,373.7M133,205 141,205 141,201 140,200 140.1,193 139.1,192 139.1,185 138.1,184 138.1,177 137.2,176 137.2,169 136.2,168 136.2,161 135.2,160 135.2,153 134.2,152 134.2,145 133.2,144 133.2,137 133,136.8M732.7,52 732.4,52.5 728.4,55 700,55.1 698,55.3 694.9,56 668,56.1 664,56.4 662,57 634,57.1 628,57.6 606,57.8 596,58.5 576,59 562.9,60 540,60.7 530,62 506,62.7 497.4,63.5 464,65.5 398,65.5 388,64.9 366,64.5 332,65 329.4,67.5 325.8,68 324,69 318.9,70.5 310,72 296,73.1 266,73.5 232,71.4 222,70.3 212.1,68.5 195,67.7 183,66.2 180,65.5 179.2,65 180.3,64.5 178.4,63 181.6,62.5 190.9,59.5 207,56 218.7,54.5 232,53.5 264,52.7 266,52.7 273.7,54 284,54.5 290,55.1 295.1,56.5 296.8,57.5 298,58.8 300,58.9 304,57.7 310,56.8 332,56 344.8,52.5 345.1,52.0M133,109.2 142.6,127 151.3,145 155.2,175 157.7,187 161.7,205 166,216.3 167,218.1 183.7,224 199.6,230 207.8,236 215.1,242 224,250.4 232.8,260 240,265.8 245.9,271 256.6,282 265.4,293 275.2,308 285.5,322 285.5,323 275.3,336 265.8,349 250,363.3 236,374.5 228,380 214,387.9 200,394.3 199,393.6 190,382.4 181.8,374 177,371 171,368.3 166,366.5 133,366.5M133,218 143,218 143,216 142,215 142.1,209 141.1,208 141.2,201 140.2,200 140.2,193 139.2,192 139.3,185 138.3,184 138.3,177 137.3,176 137.4,169 136.4,168 136.4,161 135.4,160 135.4,153 134.4,152 134.4,145 133.4,144 133.4,137 133,136.6M133,110.7 136.7,118 140.7,127 148,145 151.9,175 157.2,202 157.9,205 166,229.6 167,231.2 174,234.3 180,237.4 186,241 191.7,245 199.7,252 217.3,269 232.2,282 241.9,293 246,298.6 256,314.3 260,322 260,323 259.4,324 256.1,329 248.8,338 243.9,343 239.2,347 232.4,352 225.7,359 217.6,366 209.1,372 200,377.3 199,376.7 194,371.5 189,367.9 178,361.7 167,357.2 165,358 163,358 161,357 133,357.0M133,231 144,231 144.1,224 143.1,223 143.2,216 142.3,215 142.3,209 141.3,208 141.4,201 140.4,200 140.4,193 139.4,192 139.4,185 138.4,184 138.5,177 137.5,176 137.5,169 136.5,168 136.5,161 135.5,160 135.5,153 134.5,152 134.5,145 133.5,144 133.5,137 133,136.5M262,57.9 266,57.7 268,58.1 274,59.6 282.3,62.5 316,62.6 326.8,63 326,65 323.3,67.5 313.5,68 311.4,69 310,69.3 300,70.9 266,72 254,70.9 232,70.2 224.6,68.5 218,68 202,67.5 190,66.2 186.1,65.5 185.3,65 189,63.9 193,63.3 203,62.7 218.5,62.5 232.9,60.5 262,57.9M356,58.5 366,58 398,58 432,58.5 452,59.2 464.7,60 464.2,60.5 462,60.6 432,61.5 332,60.6 325.3,60 328,59.7 356,58.5M133,112.4 135.5,118 138.9,127 144.6,145 148.6,175 154,205 160.4,228 163.4,237 166,243.7 167,245.3 176.4,253 185.1,261 192,268 200,277 209.3,284 218,292 225.3,300 233.1,310 239.3,316 244.2,322 244,323 242,325 238,328.4 232.7,332 216.9,347 207.3,355 200,360.3 199,360.1 191.7,356 185,353.2 177,350.6 167,348.1 164,353 162,353 160.7,352 160,348 133,348.0M133,245 146,245 146.1,240 145.1,239 145.3,232 144.3,231 144.4,224 143.4,223 143.5,216 142.5,215 142.5,209 141.5,208 141.6,201 140.6,200 140.6,193 139.6,192 139.6,185 138.6,184 138.6,177 137.6,176 137.7,169 136.7,168 136.7,161 135.7,160 135.7,153 134.7,152 134.7,145 133.7,144 133.7,137 133,136.3M206,63 234,62.6 314,62.8 319.8,63 320.1,65 317.2,67.5 301.3,68 298,69 266,68.6 249.2,68 218,67.8 208,67.5 192.2,65.5 191.3,65 193,64.7 206,63.0M133,116 134.2,118 137,127 141.2,145 145.2,175 148.4,195 150.1,205 153.5,220 158,238 163.1,255 166,263.3 167,265.1 174,271.5 193,290 203,298.8 214.7,311 227,322 226.5,323 220.7,326 212.4,332 200,344.1 199,344.2 192,341.7 184,339.4 167,336.1 166,338.1 163,347.2 161,347.3 160,347 159.4,342 158.3,341 158,336 133,336.0M133,264.7 149,264.7 149,264 148,263 148.2,256 147.2,255 147.3,248 146.3,247 146.5,240 145.5,239 145.5,232 144.6,231 144.6,224 143.6,223 143.7,216 142.7,215 142.7,209 141.7,208 141.7,201 140.7,200 140.8,193 139.8,192 139.8,185 138.8,184 138.8,177 137.8,176 137.8,169 136.8,168 136.8,161 135.8,160 135.8,153 134.8,152 134.8,145 133.8,144 133.8,137 133,136.2M214,62.9 266,62.6 310,62.9 312.8,63 314.2,65 311.1,67.5 306,67.7 266,67.9 222,67.7 214.2,67.5 198.3,65.5 197.4,65 214,62.9M133,124.4 134,124.4 135.1,127 145.5,200 150.2,227 156.5,257 158.9,266 161.2,273 163.7,279 166,283.1 171,290.3 177,297.4 181.5,302 186,305.9 192,310.6 200,315.9 206.3,322 205.2,323 198.7,325 194,326.9 189,328.2 180,329.7 167,331 166,331.5 164.8,333 163.3,336 162,339.9 161,340.5 159,340.5 158.5,335 157.4,334 157,331 133,331.0M133,284 151,284 151.2,280 150.2,279 150.4,272 149.4,271 149.6,264 148.6,263 148.7,256 147.7,255 147.7,248 146.7,247 146.8,240 145.8,239 145.8,232 144.8,231 144.9,224 143.9,223 143.9,216 142.9,215 142.9,209 141.9,208 141.9,201 140.9,200 140.9,193 139.9,192 139.9,185 138.9,184 138.9,177 137.9,176 138,169 137,168 137,161 136,160 136,153 135,152 135,145 134,144 134,137 133,136.0M220,63 266,62.7 305.8,63 308.3,65 305,67.5 302,67.6 224,67.6 220.4,67.5 214,66.3 207.6,65.5 206,65 220,63.0" fill="none" stroke="#000" stroke-width="1" stroke-linejoin="round" shape-rendering="crispEdges" mask="url(#lm)"/>
<path d="M133.5,62.8H203L227,64V66.8L205,68.7H133.5Z" fill="#000"/>
<path d="M205.5,65h3.5M211,65h5M218,65.2h2M221.5,65.3h1.2" stroke="#ff9800" stroke-width="1.6" fill="none"/><path d="M223.6,65.4h1.6" stroke="#f02010" stroke-width="2" fill="none"/>
<path d="M203.0,162.5 300.0,163.0 640.0,163.0 845.8,162.2M185.0,199.0 300.0,199.5 350.0,199.5M372.0,199.3 600.0,198.7 858.8,198.5 866.0,180.0 873.0,120.0M182.0,250.0 300.0,250.7 378.0,251.0M408.0,251.0 600.0,250.6 861.0,250.5 868.0,225.0 874.0,180.0 880.0,125.0M200.0,326.0 300.0,326.5 528.0,327.0M560.0,327.0 700.0,326.8 861.0,326.5 866.0,290.0 873.0,225.0 879.0,170.0 887.0,130.0M175.0,385.0 200.0,422.5 270.0,420.0 332.5,416.0 365.0,396.5 400.0,406.0 470.0,412.5 540.0,415.0 578.0,416.3M633.6,417.5 650.0,418.8 680.0,417.5 700.0,418.3 730.0,419.5 828.5,419.5 845.0,415.0 858.8,410.0 862.0,395.0 866.0,340.0 871.0,280.0 876.0,230.0 882.0,180.0" fill="none" stroke="#808080" stroke-width="1" stroke-dasharray="10,4,2,4" shape-rendering="crispEdges"/>
<text class="cl" transform="translate(366.0,129.5) rotate(-3) scale(0.9,1)" y="4">100</text>
<text class="cl" transform="translate(370.0,136.5) rotate(-3) scale(0.9,1)" y="4">80</text>
<text class="cl" transform="translate(372.0,148.0) rotate(-3) scale(0.9,1)" y="4">60</text>
<text class="cl" transform="translate(397.0,160.0) rotate(-3) scale(0.9,1)" y="4">40</text>
<text class="cl" transform="translate(391.0,190.0) rotate(-12) scale(0.9,1)" y="4">20</text>
<text class="cl" transform="translate(272.5,86.0) rotate(-8) scale(0.9,1)" y="4">100</text>
<text class="cl" transform="translate(240.0,89.0) rotate(-8) scale(0.9,1)" y="4">80</text>
<text class="cl" transform="translate(211.5,91.5) rotate(-15) scale(0.9,1)" y="4">60</text>
<text class="cl" transform="translate(170.0,78.0) rotate(0) scale(0.9,1)" y="4">40</text>
<text class="cl" transform="translate(184.0,85.0) rotate(35) scale(0.9,1)" y="4">20</text>
<text class="cl" transform="translate(350.0,72.5) rotate(-8) scale(0.9,1)" y="4">200</text>
<text class="cl" transform="translate(310.7,59.7) rotate(-5) scale(0.9,1)" y="4">300</text>
<text class="cl" transform="translate(311.6,68.5) rotate(-5) scale(0.9,1)" y="4">500</text>
<text class="cl" transform="translate(430.0,60.8) rotate(0) scale(0.9,1)" y="4">400</text>
<text class="cl" transform="translate(470.0,66.5) rotate(0) scale(0.9,1)" y="4">300</text>
<text class="cl" transform="translate(606.0,67.8) rotate(-8) scale(0.9,1)" y="4">200</text>
<text class="cl" transform="translate(726.5,59.8) rotate(0) scale(0.9,1)" y="4">300</text>
<text class="cl" transform="translate(857.0,58.5) rotate(0) scale(0.9,1)" y="4">200</text>
<text class="cl" transform="translate(622.0,103.0) rotate(-12) scale(0.9,1)" y="4">100</text>
<text class="cl" transform="translate(628.0,114.5) rotate(-12) scale(0.9,1)" y="4">80</text>
<text class="cl" transform="translate(632.0,127.0) rotate(-12) scale(0.9,1)" y="4">60</text>
<text class="cl" transform="translate(650.0,137.0) rotate(-20) scale(0.9,1)" y="4">40</text>
<text class="cl" transform="translate(642.5,161.5) rotate(-8) scale(0.9,1)" y="4">20</text>
<text class="cl" transform="translate(675.0,173.5) rotate(-35) scale(0.9,1)" y="4">10</text>
<text class="cl" transform="translate(664.0,211.0) rotate(-25) scale(0.9,1)" y="4">5</text>
<text class="cl" transform="translate(869.5,69.0) rotate(-5) scale(0.9,1)" y="4">100</text>
<text class="cl" transform="translate(874.0,73.0) rotate(-5) scale(0.9,1)" y="4">80</text>
<text class="cl" transform="translate(877.0,77.5) rotate(-5) scale(0.9,1)" y="4">60</text>
<text class="cl" transform="translate(895.8,85.0) rotate(-8) scale(0.9,1)" y="4">40</text>
<text class="cl" transform="translate(884.5,100.0) rotate(-8) scale(0.9,1)" y="4">20</text>
<text class="cl" transform="translate(914.6,103.0) rotate(-35) scale(0.9,1)" y="4">10</text>
<text class="cl" transform="translate(889.4,124.5) rotate(-12) scale(0.9,1)" y="4">5</text>
<text class="cl" transform="translate(353.0,232.0) rotate(35) scale(0.9,1)" y="4">40</text>
<text class="cl" transform="translate(331.5,240.5) rotate(38) scale(0.9,1)" y="4">60</text>
<text class="cl" transform="translate(353.0,275.0) rotate(40) scale(0.9,1)" y="4">80</text>
<text class="cl" transform="translate(343.4,285.0) rotate(48) scale(0.9,1)" y="4">100</text>
<text class="cl" transform="translate(301.2,305.5) rotate(52) scale(0.9,1)" y="4">200</text>
<text class="cl" transform="translate(279.5,317.5) rotate(62) scale(0.9,1)" y="4">300</text>
<text class="cl" transform="translate(257.0,328.0) rotate(85) scale(0.9,1)" y="4">400</text>
<text class="cl" transform="translate(241.0,334.0) rotate(-60) scale(0.9,1)" y="4">500</text>
<text class="cl" transform="translate(217.5,340.0) rotate(-38) scale(0.9,1)" y="4">600</text>
<text class="cl" transform="translate(505.0,273.5) rotate(58) scale(0.9,1)" y="4">10</text>
<text class="cl" transform="translate(495.5,322.0) rotate(-85) scale(0.9,1)" y="4">20</text>
<text class="cl" transform="translate(543.8,377.5) rotate(60) scale(0.9,1)" y="4">5</text>
<text class="cl" transform="translate(395.0,417.0) rotate(-50) scale(0.9,1)" y="4">10</text>
<text class="cl" transform="translate(365.5,383.5) rotate(-50) scale(0.9,1)" y="4">40</text>
<text class="cl" transform="translate(329.0,399.0) rotate(-38) scale(0.9,1)" y="4">60</text>
<text class="cl" transform="translate(226.5,429.5) rotate(-32) scale(0.9,1)" y="4">100</text>
<text class="cl" transform="translate(251.5,424.0) rotate(-22) scale(0.9,1)" y="4">80</text>
<text class="cl" transform="translate(320.0,465.0) rotate(-62) scale(0.9,1)" y="4">20</text>
<text class="cl" transform="translate(334.0,476.0) rotate(-50) scale(0.9,1)" y="4">10</text>
<text class="cl" transform="translate(172.5,164.5) rotate(25) scale(0.9,1)" y="4">40</text>
<text class="cl" transform="translate(188.5,451.0) rotate(-85) scale(0.9,1)" y="4">40</text>
<text class="cl" transform="translate(153.5,295.0) rotate(-80) scale(0.9,1)" y="4">300</text>
<text class="cl" transform="translate(150.0,250.0) rotate(-82) scale(0.9,1)" y="4">400</text>
<text class="cl" transform="translate(157.5,150.0) rotate(-80) scale(0.9,1)" y="4">100</text>
<text class="cl" transform="translate(138.0,141.0) rotate(-80) scale(0.9,1)" y="4">100</text>
<text class="cl" transform="translate(139.0,160.0) rotate(-82) scale(0.9,1)" y="4">300</text>
<text class="cl" transform="translate(143.0,200.0) rotate(-82) scale(0.9,1)" y="4">500</text>
<text class="cl" transform="translate(168.0,375.0) rotate(-80) scale(0.9,1)" y="4">200</text>
<text class="cl" transform="translate(173.0,398.0) rotate(-78) scale(0.9,1)" y="4">100</text>
<text class="cl" transform="translate(192.5,69.5) rotate(0) scale(0.9,1)" y="4">100</text>
<text class="cl" transform="translate(218.8,75.0) rotate(-8) scale(0.9,1)" y="4">300</text>
<text class="cl" transform="translate(249.0,75.0) rotate(-85) scale(0.9,1)" y="4">500</text>
</g>
<path d="M133.5,117.0 148.4,235.0 162.0,342.0 182.0,448.0 199.6,513.5 232.2,488.8 264.5,551.8 298.8,552.5 366.0,427.5 398.0,445.0 463.5,560.0 497.3,534.5 529.8,553.8 562.3,610.8 597.3,605.5 630.3,577.3 664.0,526.0 694.9,465.0 728.5,495.2 762.1,477.4 795.1,579.3 828.6,553.5 860.6,449.0 894.0,139.5 927.5,96.0 930,96 930,620 130,620 130,117Z" fill="#4d4d4d"/>
</g>
<text class="il" x="339.0" y="171.0" style="fill:#8a8a8a">36.53</text>
<text class="il" x="358.5" y="207.0" style="fill:#8a8a8a">36.71</text>
<text class="il" x="393.2" y="258.5" style="fill:#8a8a8a">36.85</text>
<text class="il" x="551.0" y="333.0" style="fill:#8a8a8a">36.95</text>
<text class="il" x="601.5" y="424.0" style="fill:#8a8a8a">37.02</text>
<text class="il" x="868.8" y="160.5" style="fill:#8a8a8a">36.53</text>
<text class="il" x="872.7" y="179.0" style="fill:#8a8a8a">36.71</text>
<text class="il" x="876.0" y="199.5" style="fill:#8a8a8a">36.85</text>
<text class="il" x="898.4" y="142.5" style="fill:#8a8a8a">36.95</text>
<text class="il" x="889.0" y="172.0" style="fill:#8a8a8a">37.02</text>
<text class="il" x="158.0" y="330.5" style="fill:#8a8a8a">37.02</text>
<text class="il" x="146.0" y="191.0" style="fill:#8a8a8a">36.95</text>
<g stroke="#000" stroke-width="1" fill="none" shape-rendering="crispEdges">
<rect x="133.5" y="52.5" width="794" height="565"/>
<path d="M190.5,617.5v-8"/>
<path d="M259.5,617.5v-8"/>
<path d="M328.5,617.5v-8"/>
<path d="M397.5,617.5v-8"/>
<path d="M466.5,617.5v-8"/>
<path d="M535.5,617.5v-8"/>
<path d="M604.5,617.5v-8"/>
<path d="M673.5,617.5v-8"/>
<path d="M742.5,617.5v-8"/>
<path d="M811.5,617.5v-8"/>
<path d="M880.5,617.5v-8"/>
<path d="M133.5,110.5h8M927.5,110.5h-8"/>
<path d="M133.5,168.5h8M927.5,168.5h-8"/>
<path d="M133.5,226.5h8M927.5,226.5h-8"/>
<path d="M133.5,283.5h8M927.5,283.5h-8"/>
<path d="M133.5,341.5h8M927.5,341.5h-8"/>
<path d="M133.5,399.5h8M927.5,399.5h-8"/>
<path d="M133.5,457.5h8M927.5,457.5h-8"/>
<path d="M133.5,515.5h8M927.5,515.5h-8"/>
<path d="M133.5,573.5h8M927.5,573.5h-8"/>
</g>
<text class="tk" x="187.3" y="635" text-anchor="middle">-45</text>
<text class="tk" x="256.3" y="635" text-anchor="middle">-40</text>
<text class="tk" x="325.3" y="635" text-anchor="middle">-35</text>
<text class="tk" x="394.3" y="635" text-anchor="middle">-30</text>
<text class="tk" x="463.3" y="635" text-anchor="middle">-25</text>
<text class="tk" x="532.3" y="635" text-anchor="middle">-20</text>
<text class="tk" x="601.3" y="635" text-anchor="middle">-15</text>
<text class="tk" x="670.3" y="635" text-anchor="middle">-10</text>
<text class="tk" x="739.3" y="635" text-anchor="middle">-5</text>
<text class="tk" x="808.3" y="635" text-anchor="middle">0</text>
<text class="tk" x="877.3" y="635" text-anchor="middle">5</text>
<text class="tk" x="129" y="58.0" text-anchor="end">0</text>
<text class="tk" x="129" y="116.0" text-anchor="end">500</text>
<text class="tk" x="129" y="174.0" text-anchor="end">1000</text>
<text class="tk" x="129" y="232.0" text-anchor="end">1500</text>
<text class="tk" x="129" y="289.0" text-anchor="end">2000</text>
<text class="tk" x="129" y="347.0" text-anchor="end">2500</text>
<text class="tk" x="129" y="405.0" text-anchor="end">3000</text>
<text class="tk" x="129" y="463.0" text-anchor="end">3500</text>
<text class="tk" x="129" y="521.0" text-anchor="end">4000</text>
<text class="tk" x="129" y="579.0" text-anchor="end">4500</text>
<text x="528.5" y="41.5" text-anchor="middle" style="font-size:14.5px;font-weight:bold">Tracer 25 along WOCE A6</text>
<text x="529.5" y="655.5" text-anchor="middle" style="font-size:15px;font-weight:bold">Longitude (°E)</text>
<text transform="translate(91.5,335) rotate(-90)" text-anchor="middle" style="font-size:15px;font-weight:bold">Depth (m)</text>
<g shape-rendering="crispEdges">
<rect x="134.5" y="661.5" width="6.8" height="13.0" fill="#eec2ed"/>
<rect x="140.8" y="661.5" width="7.7" height="13.0" fill="#eaaee7"/>
<rect x="148.0" y="661.5" width="7.7" height="13.0" fill="#e696e0"/>
<rect x="155.2" y="661.5" width="7.7" height="13.0" fill="#e07ed9"/>
<rect x="162.3" y="661.5" width="7.7" height="13.0" fill="#dd67d4"/>
<rect x="169.5" y="661.5" width="7.7" height="13.0" fill="#da53ce"/>
<rect x="176.7" y="661.5" width="7.7" height="13.0" fill="#d64fc9"/>
<rect x="183.9" y="661.5" width="7.7" height="13.0" fill="#d25ec4"/>
<rect x="191.1" y="661.5" width="7.7" height="13.0" fill="#ce71c0"/>
<rect x="198.3" y="661.5" width="7.7" height="13.0" fill="#c983bf"/>
<rect x="205.4" y="661.5" width="7.7" height="13.0" fill="#c293c3"/>
<rect x="212.6" y="661.5" width="7.7" height="13.0" fill="#b89cca"/>
<rect x="219.8" y="661.5" width="7.7" height="13.0" fill="#a89bd0"/>
<rect x="227.0" y="661.5" width="7.7" height="13.0" fill="#9690d7"/>
<rect x="234.2" y="661.5" width="7.7" height="13.0" fill="#8382df"/>
<rect x="241.4" y="661.5" width="7.7" height="13.0" fill="#6f6ee6"/>
<rect x="248.6" y="661.5" width="7.7" height="13.0" fill="#5a58ed"/>
<rect x="255.7" y="661.5" width="7.7" height="13.0" fill="#4646f2"/>
<rect x="262.9" y="661.5" width="7.7" height="13.0" fill="#373bf4"/>
<rect x="270.1" y="661.5" width="7.7" height="13.0" fill="#2840ee"/>
<rect x="277.3" y="661.5" width="7.7" height="13.0" fill="#2050e8"/>
<rect x="284.5" y="661.5" width="7.7" height="13.0" fill="#2260e8"/>
<rect x="291.7" y="661.5" width="7.7" height="13.0" fill="#2670e8"/>
<rect x="298.9" y="661.5" width="7.7" height="13.0" fill="#2c80ea"/>
<rect x="306.0" y="661.5" width="7.7" height="13.0" fill="#3490ee"/>
<rect x="313.2" y="661.5" width="7.7" height="13.0" fill="#3ea0f2"/>
<rect x="320.4" y="661.5" width="7.7" height="13.0" fill="#4ab0f4"/>
<rect x="327.6" y="661.5" width="7.7" height="13.0" fill="#58c0f4"/>
<rect x="334.8" y="661.5" width="7.7" height="13.0" fill="#66d0f4"/>
<rect x="342.0" y="661.5" width="7.7" height="13.0" fill="#74e4ec"/>
<rect x="349.1" y="661.5" width="7.7" height="13.0" fill="#7befdf"/>
<rect x="356.3" y="661.5" width="7.7" height="13.0" fill="#79edd5"/>
<rect x="363.5" y="661.5" width="7.7" height="13.0" fill="#74e9ca"/>
<rect x="370.7" y="661.5" width="7.7" height="13.0" fill="#6de4bd"/>
<rect x="377.9" y="661.5" width="7.7" height="13.0" fill="#66dfb0"/>
<rect x="385.1" y="661.5" width="7.7" height="13.0" fill="#5dd9a3"/>
<rect x="392.3" y="661.5" width="7.7" height="13.0" fill="#53d295"/>
<rect x="399.4" y="661.5" width="7.7" height="13.0" fill="#49cb87"/>
<rect x="406.6" y="661.5" width="7.7" height="13.0" fill="#40c57b"/>
<rect x="413.8" y="661.5" width="7.7" height="13.0" fill="#37bf70"/>
<rect x="421.0" y="661.5" width="7.7" height="13.0" fill="#20ba5d"/>
<rect x="428.2" y="661.5" width="7.7" height="13.0" fill="#1bbe58"/>
<rect x="435.4" y="661.5" width="7.7" height="13.0" fill="#16c253"/>
<rect x="442.6" y="661.5" width="7.7" height="13.0" fill="#13c84c"/>
<rect x="449.7" y="661.5" width="7.7" height="13.0" fill="#12d044"/>
<rect x="456.9" y="661.5" width="7.7" height="13.0" fill="#11d83c"/>
<rect x="464.1" y="661.5" width="7.7" height="13.0" fill="#12dd36"/>
<rect x="471.3" y="661.5" width="7.7" height="13.0" fill="#16df32"/>
<rect x="478.5" y="661.5" width="7.7" height="13.0" fill="#1cdd30"/>
<rect x="485.7" y="661.5" width="7.7" height="13.0" fill="#25d730"/>
<rect x="492.9" y="661.5" width="7.7" height="13.0" fill="#38cc33"/>
<rect x="500.0" y="661.5" width="7.7" height="13.0" fill="#41cb3a"/>
<rect x="507.2" y="661.5" width="7.7" height="13.0" fill="#4aca40"/>
<rect x="514.4" y="661.5" width="7.7" height="13.0" fill="#53c946"/>
<rect x="521.6" y="661.5" width="7.7" height="13.0" fill="#5cc84d"/>
<rect x="528.8" y="661.5" width="7.7" height="13.0" fill="#66ca54"/>
<rect x="536.0" y="661.5" width="7.7" height="13.0" fill="#70d05a"/>
<rect x="543.1" y="661.5" width="7.7" height="13.0" fill="#7cd462"/>
<rect x="550.3" y="661.5" width="7.7" height="13.0" fill="#86da68"/>
<rect x="557.5" y="661.5" width="7.7" height="13.0" fill="#92de6e"/>
<rect x="564.7" y="661.5" width="7.7" height="13.0" fill="#9fe26d"/>
<rect x="571.9" y="661.5" width="7.7" height="13.0" fill="#ace668"/>
<rect x="579.1" y="661.5" width="7.7" height="13.0" fill="#b9ea63"/>
<rect x="586.3" y="661.5" width="7.7" height="13.0" fill="#c7eb5c"/>
<rect x="593.4" y="661.5" width="7.7" height="13.0" fill="#d5e954"/>
<rect x="600.6" y="661.5" width="7.7" height="13.0" fill="#e0e34b"/>
<rect x="607.8" y="661.5" width="7.7" height="13.0" fill="#e8da40"/>
<rect x="615.0" y="661.5" width="7.7" height="13.0" fill="#f0d135"/>
<rect x="622.2" y="661.5" width="7.7" height="13.0" fill="#f6c72c"/>
<rect x="629.4" y="661.5" width="7.7" height="13.0" fill="#fabd24"/>
<rect x="636.6" y="661.5" width="7.7" height="13.0" fill="#fcb61f"/>
<rect x="643.7" y="661.5" width="7.7" height="13.0" fill="#fcb11e"/>
<rect x="650.9" y="661.5" width="7.7" height="13.0" fill="#fcac1c"/>
<rect x="658.1" y="661.5" width="7.7" height="13.0" fill="#fca71a"/>
<rect x="665.3" y="661.5" width="7.7" height="13.0" fill="#fca219"/>
<rect x="672.5" y="661.5" width="7.7" height="13.0" fill="#fb9e16"/>
<rect x="679.7" y="661.5" width="7.7" height="13.0" fill="#fa9913"/>
<rect x="686.8" y="661.5" width="7.7" height="13.0" fill="#f89410"/>
<rect x="694.0" y="661.5" width="7.7" height="13.0" fill="#f68f0d"/>
<rect x="701.2" y="661.5" width="7.7" height="13.0" fill="#f58a09"/>
<rect x="708.4" y="661.5" width="7.7" height="13.0" fill="#ea7c08"/>
<rect x="715.6" y="661.5" width="7.7" height="13.0" fill="#e77507"/>
<rect x="722.8" y="661.5" width="7.7" height="13.0" fill="#e46d06"/>
<rect x="730.0" y="661.5" width="7.7" height="13.0" fill="#e16505"/>
<rect x="737.1" y="661.5" width="7.7" height="13.0" fill="#de5e04"/>
<rect x="744.3" y="661.5" width="7.7" height="13.0" fill="#df5605"/>
<rect x="751.5" y="661.5" width="7.7" height="13.0" fill="#e44d06"/>
<rect x="758.7" y="661.5" width="7.7" height="13.0" fill="#e94407"/>
<rect x="765.9" y="661.5" width="7.7" height="13.0" fill="#f03a0a"/>
<rect x="773.1" y="661.5" width="7.7" height="13.0" fill="#f92d0e"/>
<rect x="780.2" y="661.5" width="7.7" height="13.0" fill="#fb1510"/>
<rect x="787.4" y="661.5" width="7.7" height="13.0" fill="#f81010"/>
<rect x="794.6" y="661.5" width="7.7" height="13.0" fill="#f50b10"/>
<rect x="801.8" y="661.5" width="7.7" height="13.0" fill="#f10912"/>
<rect x="809.0" y="661.5" width="7.7" height="13.0" fill="#ec0a17"/>
<rect x="816.2" y="661.5" width="7.7" height="13.0" fill="#e70b1c"/>
<rect x="823.4" y="661.5" width="7.7" height="13.0" fill="#e20c20"/>
<rect x="830.5" y="661.5" width="7.7" height="13.0" fill="#dd0d25"/>
<rect x="837.7" y="661.5" width="7.7" height="13.0" fill="#d70e2a"/>
<rect x="844.9" y="661.5" width="7.7" height="13.0" fill="#d2102e"/>
<rect x="852.1" y="661.5" width="7.7" height="13.0" fill="#da2642"/>
<rect x="859.3" y="661.5" width="7.7" height="13.0" fill="#de3347"/>
<rect x="866.5" y="661.5" width="7.7" height="13.0" fill="#e2404c"/>
<rect x="873.7" y="661.5" width="7.7" height="13.0" fill="#e64d51"/>
<rect x="880.8" y="661.5" width="7.7" height="13.0" fill="#ea5a56"/>
<rect x="888.0" y="661.5" width="7.7" height="13.0" fill="#ef6b5d"/>
<rect x="895.2" y="661.5" width="7.7" height="13.0" fill="#f48068"/>
<rect x="902.4" y="661.5" width="7.7" height="13.0" fill="#f99573"/>
<rect x="909.6" y="661.5" width="7.7" height="13.0" fill="#fcaa7e"/>
<rect x="916.8" y="661.5" width="7.7" height="13.0" fill="#fcbe8a"/>
<rect x="924.0" y="661.5" width="5.0" height="13.0" fill="#fcc890"/>
<rect x="134.5" y="661.5" width="794.0" height="13.0" fill="none" stroke="#000"/>
<path d="M205.5,661.5V674.5" stroke="#000" fill="none"/>
<path d="M277.5,661.5V674.5" stroke="#000" fill="none"/>
<path d="M349.5,661.5V674.5" stroke="#000" fill="none"/>
<path d="M421.5,661.5V674.5" stroke="#000" fill="none"/>
<path d="M492.5,661.5V674.5" stroke="#000" fill="none"/>
<path d="M564.5,661.5V674.5" stroke="#000" fill="none"/>
<path d="M636.5,661.5V674.5" stroke="#000" fill="none"/>
<path d="M708.5,661.5V674.5" stroke="#000" fill="none"/>
<path d="M780.5,661.5V674.5" stroke="#000" fill="none"/>
<path d="M852.5,661.5V674.5" stroke="#000" fill="none"/>
<path d="M923.5,661.5V674.5" stroke="#000" fill="none"/>
</g>
<text class="tk" x="205.9" y="691.5" text-anchor="middle">100</text>
<text class="tk" x="277.8" y="691.5" text-anchor="middle">200</text>
<text class="tk" x="349.6" y="691.5" text-anchor="middle">300</text>
<text class="tk" x="421.5" y="691.5" text-anchor="middle">400</text>
<text class="tk" x="493.4" y="691.5" text-anchor="middle">500</text>
<text class="tk" x="565.2" y="691.5" text-anchor="middle">600</text>
<text class="tk" x="637.1" y="691.5" text-anchor="middle">700</text>
<text class="tk" x="708.9" y="691.5" text-anchor="middle">800</text>
<text class="tk" x="780.8" y="691.5" text-anchor="middle">900</text>
<text class="tk" x="852.6" y="691.5" text-anchor="middle">1000</text>
<text class="tk" x="924.5" y="691.5" text-anchor="middle">1100</text>
</svg></body></html>
